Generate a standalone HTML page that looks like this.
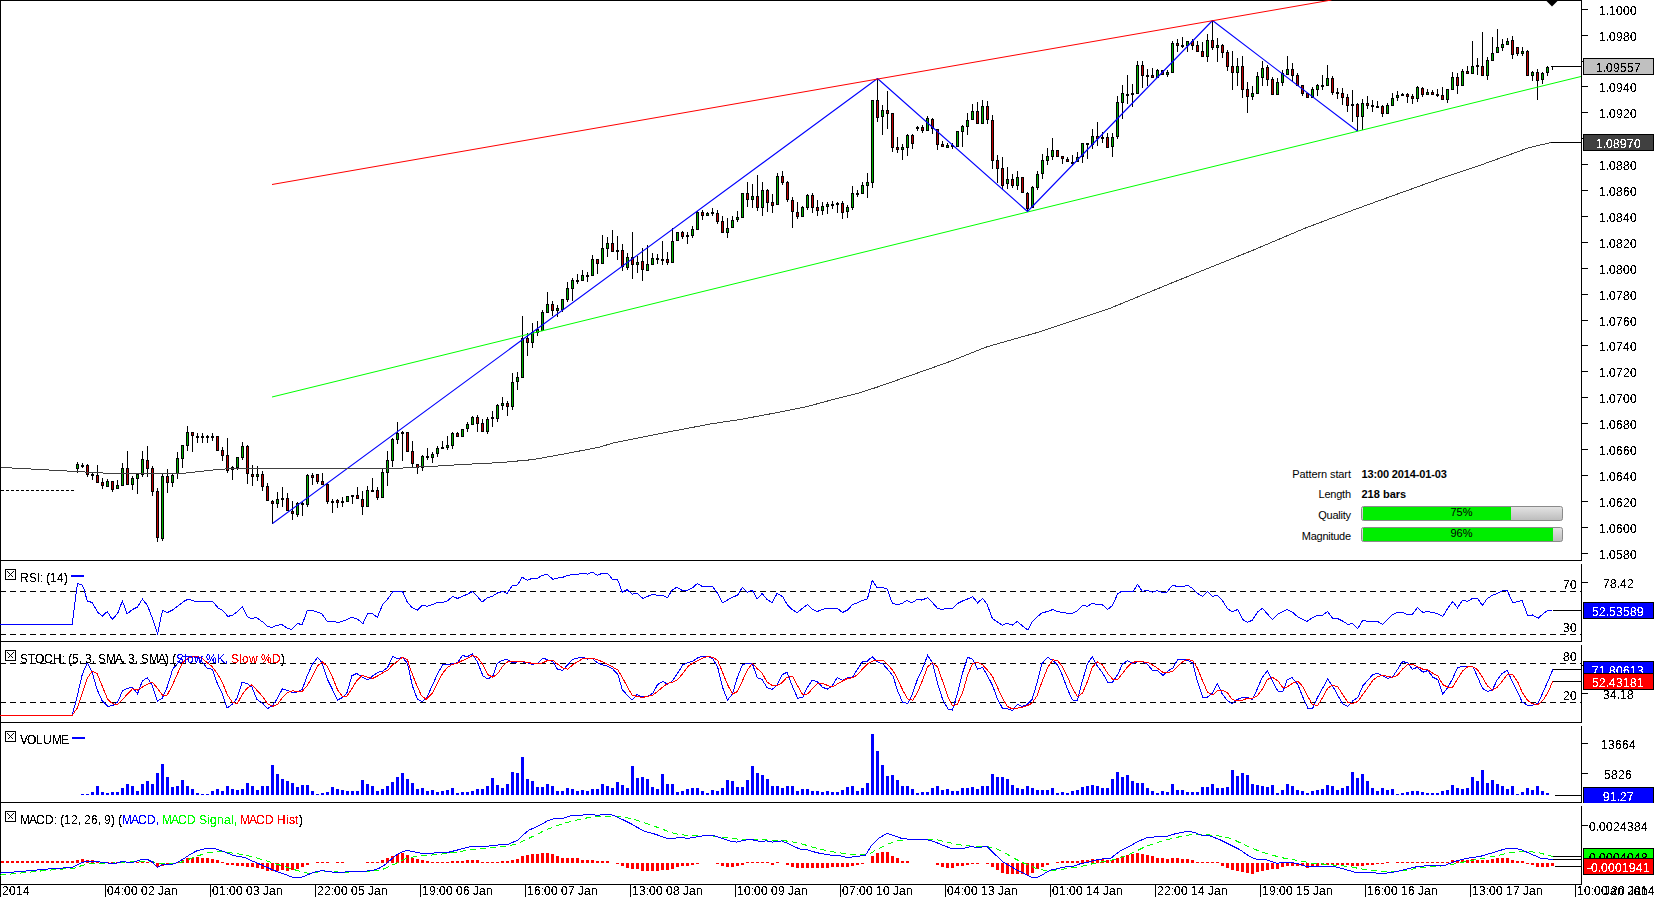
<!DOCTYPE html>
<html><head><meta charset="utf-8"><title>Chart</title>
<style>
html,body{margin:0;padding:0;background:#fff;}
body{width:1655px;height:897px;overflow:hidden;font-family:"Liberation Sans",sans-serif;}
svg{display:block;}
</style></head><body>
<svg width="1655" height="897" viewBox="0 0 1655 897">
<rect x="0" y="0" width="1655" height="897" fill="#fff"/>
<g shape-rendering="crispEdges">
<rect x="0" y="0" width="1582" height="1" fill="#000"/>
<rect x="0" y="0" width="1" height="897" fill="#000"/>
<rect x="1581" y="0" width="1" height="561" fill="#000"/>
<rect x="0" y="560" width="1582" height="1" fill="#000"/>
<rect x="0" y="641" width="1582" height="1" fill="#000"/>
<rect x="0" y="722" width="1582" height="1" fill="#000"/>
<rect x="0" y="802" width="1582" height="1" fill="#000"/>
<rect x="0" y="884" width="1582" height="1" fill="#000"/>
<rect x="1581" y="564" width="1" height="77" fill="#000"/>
<rect x="1581" y="645" width="1" height="77" fill="#000"/>
<rect x="1581" y="726" width="1" height="76" fill="#000"/>
<rect x="1581" y="806" width="1" height="78" fill="#000"/>
<rect x="105" y="884" width="1" height="13" fill="#000"/>
<rect x="210" y="884" width="1" height="13" fill="#000"/>
<rect x="315" y="884" width="1" height="13" fill="#000"/>
<rect x="420" y="884" width="1" height="13" fill="#000"/>
<rect x="525" y="884" width="1" height="13" fill="#000"/>
<rect x="630" y="884" width="1" height="13" fill="#000"/>
<rect x="735" y="884" width="1" height="13" fill="#000"/>
<rect x="840" y="884" width="1" height="13" fill="#000"/>
<rect x="945" y="884" width="1" height="13" fill="#000"/>
<rect x="1050" y="884" width="1" height="13" fill="#000"/>
<rect x="1155" y="884" width="1" height="13" fill="#000"/>
<rect x="1260" y="884" width="1" height="13" fill="#000"/>
<rect x="1365" y="884" width="1" height="13" fill="#000"/>
<rect x="1470" y="884" width="1" height="13" fill="#000"/>
<rect x="1575" y="884" width="1" height="13" fill="#000"/>
<rect x="1582" y="9" width="6" height="1" fill="#000"/>
<rect x="1582" y="35" width="6" height="1" fill="#000"/>
<rect x="1582" y="61" width="6" height="1" fill="#000"/>
<rect x="1582" y="86" width="6" height="1" fill="#000"/>
<rect x="1582" y="112" width="6" height="1" fill="#000"/>
<rect x="1582" y="138" width="6" height="1" fill="#000"/>
<rect x="1582" y="164" width="6" height="1" fill="#000"/>
<rect x="1582" y="190" width="6" height="1" fill="#000"/>
<rect x="1582" y="216" width="6" height="1" fill="#000"/>
<rect x="1582" y="242" width="6" height="1" fill="#000"/>
<rect x="1582" y="268" width="6" height="1" fill="#000"/>
<rect x="1582" y="294" width="6" height="1" fill="#000"/>
<rect x="1582" y="320" width="6" height="1" fill="#000"/>
<rect x="1582" y="345" width="6" height="1" fill="#000"/>
<rect x="1582" y="371" width="6" height="1" fill="#000"/>
<rect x="1582" y="397" width="6" height="1" fill="#000"/>
<rect x="1582" y="423" width="6" height="1" fill="#000"/>
<rect x="1582" y="449" width="6" height="1" fill="#000"/>
<rect x="1582" y="475" width="6" height="1" fill="#000"/>
<rect x="1582" y="501" width="6" height="1" fill="#000"/>
<rect x="1582" y="527" width="6" height="1" fill="#000"/>
<rect x="1582" y="553" width="6" height="1" fill="#000"/>
<rect x="1582" y="582" width="6" height="1" fill="#000"/>
<rect x="1582" y="693" width="6" height="1" fill="#000"/>
<rect x="1582" y="665" width="6" height="1" fill="#000"/>
<rect x="1582" y="743" width="6" height="1" fill="#000"/>
<rect x="1582" y="773" width="6" height="1" fill="#000"/>
<rect x="1582" y="825" width="6" height="1" fill="#000"/>
</g>
<g shape-rendering="crispEdges" fill="#000">
<rect x="1" y="591" width="5" height="1"/>
<rect x="10" y="591" width="6" height="1"/>
<rect x="20" y="591" width="6" height="1"/>
<rect x="30" y="591" width="6" height="1"/>
<rect x="40" y="591" width="6" height="1"/>
<rect x="50" y="591" width="6" height="1"/>
<rect x="60" y="591" width="6" height="1"/>
<rect x="70" y="591" width="6" height="1"/>
<rect x="80" y="591" width="6" height="1"/>
<rect x="90" y="591" width="6" height="1"/>
<rect x="100" y="591" width="6" height="1"/>
<rect x="110" y="591" width="6" height="1"/>
<rect x="120" y="591" width="6" height="1"/>
<rect x="130" y="591" width="6" height="1"/>
<rect x="140" y="591" width="6" height="1"/>
<rect x="150" y="591" width="6" height="1"/>
<rect x="160" y="591" width="6" height="1"/>
<rect x="170" y="591" width="6" height="1"/>
<rect x="180" y="591" width="6" height="1"/>
<rect x="190" y="591" width="6" height="1"/>
<rect x="200" y="591" width="6" height="1"/>
<rect x="210" y="591" width="6" height="1"/>
<rect x="220" y="591" width="6" height="1"/>
<rect x="230" y="591" width="6" height="1"/>
<rect x="240" y="591" width="6" height="1"/>
<rect x="250" y="591" width="6" height="1"/>
<rect x="260" y="591" width="6" height="1"/>
<rect x="270" y="591" width="6" height="1"/>
<rect x="280" y="591" width="6" height="1"/>
<rect x="290" y="591" width="6" height="1"/>
<rect x="300" y="591" width="6" height="1"/>
<rect x="310" y="591" width="6" height="1"/>
<rect x="320" y="591" width="6" height="1"/>
<rect x="330" y="591" width="6" height="1"/>
<rect x="340" y="591" width="6" height="1"/>
<rect x="350" y="591" width="6" height="1"/>
<rect x="360" y="591" width="6" height="1"/>
<rect x="370" y="591" width="6" height="1"/>
<rect x="380" y="591" width="6" height="1"/>
<rect x="390" y="591" width="6" height="1"/>
<rect x="400" y="591" width="6" height="1"/>
<rect x="410" y="591" width="6" height="1"/>
<rect x="420" y="591" width="6" height="1"/>
<rect x="430" y="591" width="6" height="1"/>
<rect x="440" y="591" width="6" height="1"/>
<rect x="450" y="591" width="6" height="1"/>
<rect x="460" y="591" width="6" height="1"/>
<rect x="470" y="591" width="6" height="1"/>
<rect x="480" y="591" width="6" height="1"/>
<rect x="490" y="591" width="6" height="1"/>
<rect x="500" y="591" width="6" height="1"/>
<rect x="510" y="591" width="6" height="1"/>
<rect x="520" y="591" width="6" height="1"/>
<rect x="530" y="591" width="6" height="1"/>
<rect x="540" y="591" width="6" height="1"/>
<rect x="550" y="591" width="6" height="1"/>
<rect x="560" y="591" width="6" height="1"/>
<rect x="570" y="591" width="6" height="1"/>
<rect x="580" y="591" width="6" height="1"/>
<rect x="590" y="591" width="6" height="1"/>
<rect x="600" y="591" width="6" height="1"/>
<rect x="610" y="591" width="6" height="1"/>
<rect x="620" y="591" width="6" height="1"/>
<rect x="630" y="591" width="6" height="1"/>
<rect x="640" y="591" width="6" height="1"/>
<rect x="650" y="591" width="6" height="1"/>
<rect x="660" y="591" width="6" height="1"/>
<rect x="670" y="591" width="6" height="1"/>
<rect x="680" y="591" width="6" height="1"/>
<rect x="690" y="591" width="6" height="1"/>
<rect x="700" y="591" width="6" height="1"/>
<rect x="710" y="591" width="6" height="1"/>
<rect x="720" y="591" width="6" height="1"/>
<rect x="730" y="591" width="6" height="1"/>
<rect x="740" y="591" width="6" height="1"/>
<rect x="750" y="591" width="6" height="1"/>
<rect x="760" y="591" width="6" height="1"/>
<rect x="770" y="591" width="6" height="1"/>
<rect x="780" y="591" width="6" height="1"/>
<rect x="790" y="591" width="6" height="1"/>
<rect x="800" y="591" width="6" height="1"/>
<rect x="810" y="591" width="6" height="1"/>
<rect x="820" y="591" width="6" height="1"/>
<rect x="830" y="591" width="6" height="1"/>
<rect x="840" y="591" width="6" height="1"/>
<rect x="850" y="591" width="6" height="1"/>
<rect x="860" y="591" width="6" height="1"/>
<rect x="870" y="591" width="6" height="1"/>
<rect x="880" y="591" width="6" height="1"/>
<rect x="890" y="591" width="6" height="1"/>
<rect x="900" y="591" width="6" height="1"/>
<rect x="910" y="591" width="6" height="1"/>
<rect x="920" y="591" width="6" height="1"/>
<rect x="930" y="591" width="6" height="1"/>
<rect x="940" y="591" width="6" height="1"/>
<rect x="950" y="591" width="6" height="1"/>
<rect x="960" y="591" width="6" height="1"/>
<rect x="970" y="591" width="6" height="1"/>
<rect x="980" y="591" width="6" height="1"/>
<rect x="990" y="591" width="6" height="1"/>
<rect x="1000" y="591" width="6" height="1"/>
<rect x="1010" y="591" width="6" height="1"/>
<rect x="1020" y="591" width="6" height="1"/>
<rect x="1030" y="591" width="6" height="1"/>
<rect x="1040" y="591" width="6" height="1"/>
<rect x="1050" y="591" width="6" height="1"/>
<rect x="1060" y="591" width="6" height="1"/>
<rect x="1070" y="591" width="6" height="1"/>
<rect x="1080" y="591" width="6" height="1"/>
<rect x="1090" y="591" width="6" height="1"/>
<rect x="1100" y="591" width="6" height="1"/>
<rect x="1110" y="591" width="6" height="1"/>
<rect x="1120" y="591" width="6" height="1"/>
<rect x="1130" y="591" width="6" height="1"/>
<rect x="1140" y="591" width="6" height="1"/>
<rect x="1150" y="591" width="6" height="1"/>
<rect x="1160" y="591" width="6" height="1"/>
<rect x="1170" y="591" width="6" height="1"/>
<rect x="1180" y="591" width="6" height="1"/>
<rect x="1190" y="591" width="6" height="1"/>
<rect x="1200" y="591" width="6" height="1"/>
<rect x="1210" y="591" width="6" height="1"/>
<rect x="1220" y="591" width="6" height="1"/>
<rect x="1230" y="591" width="6" height="1"/>
<rect x="1240" y="591" width="6" height="1"/>
<rect x="1250" y="591" width="6" height="1"/>
<rect x="1260" y="591" width="6" height="1"/>
<rect x="1270" y="591" width="6" height="1"/>
<rect x="1280" y="591" width="6" height="1"/>
<rect x="1290" y="591" width="6" height="1"/>
<rect x="1300" y="591" width="6" height="1"/>
<rect x="1310" y="591" width="6" height="1"/>
<rect x="1320" y="591" width="6" height="1"/>
<rect x="1330" y="591" width="6" height="1"/>
<rect x="1340" y="591" width="6" height="1"/>
<rect x="1350" y="591" width="6" height="1"/>
<rect x="1360" y="591" width="6" height="1"/>
<rect x="1370" y="591" width="6" height="1"/>
<rect x="1380" y="591" width="6" height="1"/>
<rect x="1390" y="591" width="6" height="1"/>
<rect x="1400" y="591" width="6" height="1"/>
<rect x="1410" y="591" width="6" height="1"/>
<rect x="1420" y="591" width="6" height="1"/>
<rect x="1430" y="591" width="6" height="1"/>
<rect x="1440" y="591" width="6" height="1"/>
<rect x="1450" y="591" width="6" height="1"/>
<rect x="1460" y="591" width="6" height="1"/>
<rect x="1470" y="591" width="6" height="1"/>
<rect x="1480" y="591" width="6" height="1"/>
<rect x="1490" y="591" width="6" height="1"/>
<rect x="1500" y="591" width="6" height="1"/>
<rect x="1510" y="591" width="6" height="1"/>
<rect x="1520" y="591" width="6" height="1"/>
<rect x="1530" y="591" width="6" height="1"/>
<rect x="1540" y="591" width="6" height="1"/>
<rect x="1550" y="591" width="6" height="1"/>
<rect x="1560" y="591" width="6" height="1"/>
<rect x="1570" y="591" width="6" height="1"/>
<rect x="1580" y="591" width="1" height="1"/>
</g>
<g shape-rendering="crispEdges" fill="#000">
<rect x="1" y="634" width="5" height="1"/>
<rect x="10" y="634" width="6" height="1"/>
<rect x="20" y="634" width="6" height="1"/>
<rect x="30" y="634" width="6" height="1"/>
<rect x="40" y="634" width="6" height="1"/>
<rect x="50" y="634" width="6" height="1"/>
<rect x="60" y="634" width="6" height="1"/>
<rect x="70" y="634" width="6" height="1"/>
<rect x="80" y="634" width="6" height="1"/>
<rect x="90" y="634" width="6" height="1"/>
<rect x="100" y="634" width="6" height="1"/>
<rect x="110" y="634" width="6" height="1"/>
<rect x="120" y="634" width="6" height="1"/>
<rect x="130" y="634" width="6" height="1"/>
<rect x="140" y="634" width="6" height="1"/>
<rect x="150" y="634" width="6" height="1"/>
<rect x="160" y="634" width="6" height="1"/>
<rect x="170" y="634" width="6" height="1"/>
<rect x="180" y="634" width="6" height="1"/>
<rect x="190" y="634" width="6" height="1"/>
<rect x="200" y="634" width="6" height="1"/>
<rect x="210" y="634" width="6" height="1"/>
<rect x="220" y="634" width="6" height="1"/>
<rect x="230" y="634" width="6" height="1"/>
<rect x="240" y="634" width="6" height="1"/>
<rect x="250" y="634" width="6" height="1"/>
<rect x="260" y="634" width="6" height="1"/>
<rect x="270" y="634" width="6" height="1"/>
<rect x="280" y="634" width="6" height="1"/>
<rect x="290" y="634" width="6" height="1"/>
<rect x="300" y="634" width="6" height="1"/>
<rect x="310" y="634" width="6" height="1"/>
<rect x="320" y="634" width="6" height="1"/>
<rect x="330" y="634" width="6" height="1"/>
<rect x="340" y="634" width="6" height="1"/>
<rect x="350" y="634" width="6" height="1"/>
<rect x="360" y="634" width="6" height="1"/>
<rect x="370" y="634" width="6" height="1"/>
<rect x="380" y="634" width="6" height="1"/>
<rect x="390" y="634" width="6" height="1"/>
<rect x="400" y="634" width="6" height="1"/>
<rect x="410" y="634" width="6" height="1"/>
<rect x="420" y="634" width="6" height="1"/>
<rect x="430" y="634" width="6" height="1"/>
<rect x="440" y="634" width="6" height="1"/>
<rect x="450" y="634" width="6" height="1"/>
<rect x="460" y="634" width="6" height="1"/>
<rect x="470" y="634" width="6" height="1"/>
<rect x="480" y="634" width="6" height="1"/>
<rect x="490" y="634" width="6" height="1"/>
<rect x="500" y="634" width="6" height="1"/>
<rect x="510" y="634" width="6" height="1"/>
<rect x="520" y="634" width="6" height="1"/>
<rect x="530" y="634" width="6" height="1"/>
<rect x="540" y="634" width="6" height="1"/>
<rect x="550" y="634" width="6" height="1"/>
<rect x="560" y="634" width="6" height="1"/>
<rect x="570" y="634" width="6" height="1"/>
<rect x="580" y="634" width="6" height="1"/>
<rect x="590" y="634" width="6" height="1"/>
<rect x="600" y="634" width="6" height="1"/>
<rect x="610" y="634" width="6" height="1"/>
<rect x="620" y="634" width="6" height="1"/>
<rect x="630" y="634" width="6" height="1"/>
<rect x="640" y="634" width="6" height="1"/>
<rect x="650" y="634" width="6" height="1"/>
<rect x="660" y="634" width="6" height="1"/>
<rect x="670" y="634" width="6" height="1"/>
<rect x="680" y="634" width="6" height="1"/>
<rect x="690" y="634" width="6" height="1"/>
<rect x="700" y="634" width="6" height="1"/>
<rect x="710" y="634" width="6" height="1"/>
<rect x="720" y="634" width="6" height="1"/>
<rect x="730" y="634" width="6" height="1"/>
<rect x="740" y="634" width="6" height="1"/>
<rect x="750" y="634" width="6" height="1"/>
<rect x="760" y="634" width="6" height="1"/>
<rect x="770" y="634" width="6" height="1"/>
<rect x="780" y="634" width="6" height="1"/>
<rect x="790" y="634" width="6" height="1"/>
<rect x="800" y="634" width="6" height="1"/>
<rect x="810" y="634" width="6" height="1"/>
<rect x="820" y="634" width="6" height="1"/>
<rect x="830" y="634" width="6" height="1"/>
<rect x="840" y="634" width="6" height="1"/>
<rect x="850" y="634" width="6" height="1"/>
<rect x="860" y="634" width="6" height="1"/>
<rect x="870" y="634" width="6" height="1"/>
<rect x="880" y="634" width="6" height="1"/>
<rect x="890" y="634" width="6" height="1"/>
<rect x="900" y="634" width="6" height="1"/>
<rect x="910" y="634" width="6" height="1"/>
<rect x="920" y="634" width="6" height="1"/>
<rect x="930" y="634" width="6" height="1"/>
<rect x="940" y="634" width="6" height="1"/>
<rect x="950" y="634" width="6" height="1"/>
<rect x="960" y="634" width="6" height="1"/>
<rect x="970" y="634" width="6" height="1"/>
<rect x="980" y="634" width="6" height="1"/>
<rect x="990" y="634" width="6" height="1"/>
<rect x="1000" y="634" width="6" height="1"/>
<rect x="1010" y="634" width="6" height="1"/>
<rect x="1020" y="634" width="6" height="1"/>
<rect x="1030" y="634" width="6" height="1"/>
<rect x="1040" y="634" width="6" height="1"/>
<rect x="1050" y="634" width="6" height="1"/>
<rect x="1060" y="634" width="6" height="1"/>
<rect x="1070" y="634" width="6" height="1"/>
<rect x="1080" y="634" width="6" height="1"/>
<rect x="1090" y="634" width="6" height="1"/>
<rect x="1100" y="634" width="6" height="1"/>
<rect x="1110" y="634" width="6" height="1"/>
<rect x="1120" y="634" width="6" height="1"/>
<rect x="1130" y="634" width="6" height="1"/>
<rect x="1140" y="634" width="6" height="1"/>
<rect x="1150" y="634" width="6" height="1"/>
<rect x="1160" y="634" width="6" height="1"/>
<rect x="1170" y="634" width="6" height="1"/>
<rect x="1180" y="634" width="6" height="1"/>
<rect x="1190" y="634" width="6" height="1"/>
<rect x="1200" y="634" width="6" height="1"/>
<rect x="1210" y="634" width="6" height="1"/>
<rect x="1220" y="634" width="6" height="1"/>
<rect x="1230" y="634" width="6" height="1"/>
<rect x="1240" y="634" width="6" height="1"/>
<rect x="1250" y="634" width="6" height="1"/>
<rect x="1260" y="634" width="6" height="1"/>
<rect x="1270" y="634" width="6" height="1"/>
<rect x="1280" y="634" width="6" height="1"/>
<rect x="1290" y="634" width="6" height="1"/>
<rect x="1300" y="634" width="6" height="1"/>
<rect x="1310" y="634" width="6" height="1"/>
<rect x="1320" y="634" width="6" height="1"/>
<rect x="1330" y="634" width="6" height="1"/>
<rect x="1340" y="634" width="6" height="1"/>
<rect x="1350" y="634" width="6" height="1"/>
<rect x="1360" y="634" width="6" height="1"/>
<rect x="1370" y="634" width="6" height="1"/>
<rect x="1380" y="634" width="6" height="1"/>
<rect x="1390" y="634" width="6" height="1"/>
<rect x="1400" y="634" width="6" height="1"/>
<rect x="1410" y="634" width="6" height="1"/>
<rect x="1420" y="634" width="6" height="1"/>
<rect x="1430" y="634" width="6" height="1"/>
<rect x="1440" y="634" width="6" height="1"/>
<rect x="1450" y="634" width="6" height="1"/>
<rect x="1460" y="634" width="6" height="1"/>
<rect x="1470" y="634" width="6" height="1"/>
<rect x="1480" y="634" width="6" height="1"/>
<rect x="1490" y="634" width="6" height="1"/>
<rect x="1500" y="634" width="6" height="1"/>
<rect x="1510" y="634" width="6" height="1"/>
<rect x="1520" y="634" width="6" height="1"/>
<rect x="1530" y="634" width="6" height="1"/>
<rect x="1540" y="634" width="6" height="1"/>
<rect x="1550" y="634" width="6" height="1"/>
<rect x="1560" y="634" width="6" height="1"/>
<rect x="1570" y="634" width="6" height="1"/>
<rect x="1580" y="634" width="1" height="1"/>
</g>
<g shape-rendering="crispEdges" fill="#000">
<rect x="1" y="663" width="5" height="1"/>
<rect x="10" y="663" width="6" height="1"/>
<rect x="20" y="663" width="6" height="1"/>
<rect x="30" y="663" width="6" height="1"/>
<rect x="40" y="663" width="6" height="1"/>
<rect x="50" y="663" width="6" height="1"/>
<rect x="60" y="663" width="6" height="1"/>
<rect x="70" y="663" width="6" height="1"/>
<rect x="80" y="663" width="6" height="1"/>
<rect x="90" y="663" width="6" height="1"/>
<rect x="100" y="663" width="6" height="1"/>
<rect x="110" y="663" width="6" height="1"/>
<rect x="120" y="663" width="6" height="1"/>
<rect x="130" y="663" width="6" height="1"/>
<rect x="140" y="663" width="6" height="1"/>
<rect x="150" y="663" width="6" height="1"/>
<rect x="160" y="663" width="6" height="1"/>
<rect x="170" y="663" width="6" height="1"/>
<rect x="180" y="663" width="6" height="1"/>
<rect x="190" y="663" width="6" height="1"/>
<rect x="200" y="663" width="6" height="1"/>
<rect x="210" y="663" width="6" height="1"/>
<rect x="220" y="663" width="6" height="1"/>
<rect x="230" y="663" width="6" height="1"/>
<rect x="240" y="663" width="6" height="1"/>
<rect x="250" y="663" width="6" height="1"/>
<rect x="260" y="663" width="6" height="1"/>
<rect x="270" y="663" width="6" height="1"/>
<rect x="280" y="663" width="6" height="1"/>
<rect x="290" y="663" width="6" height="1"/>
<rect x="300" y="663" width="6" height="1"/>
<rect x="310" y="663" width="6" height="1"/>
<rect x="320" y="663" width="6" height="1"/>
<rect x="330" y="663" width="6" height="1"/>
<rect x="340" y="663" width="6" height="1"/>
<rect x="350" y="663" width="6" height="1"/>
<rect x="360" y="663" width="6" height="1"/>
<rect x="370" y="663" width="6" height="1"/>
<rect x="380" y="663" width="6" height="1"/>
<rect x="390" y="663" width="6" height="1"/>
<rect x="400" y="663" width="6" height="1"/>
<rect x="410" y="663" width="6" height="1"/>
<rect x="420" y="663" width="6" height="1"/>
<rect x="430" y="663" width="6" height="1"/>
<rect x="440" y="663" width="6" height="1"/>
<rect x="450" y="663" width="6" height="1"/>
<rect x="460" y="663" width="6" height="1"/>
<rect x="470" y="663" width="6" height="1"/>
<rect x="480" y="663" width="6" height="1"/>
<rect x="490" y="663" width="6" height="1"/>
<rect x="500" y="663" width="6" height="1"/>
<rect x="510" y="663" width="6" height="1"/>
<rect x="520" y="663" width="6" height="1"/>
<rect x="530" y="663" width="6" height="1"/>
<rect x="540" y="663" width="6" height="1"/>
<rect x="550" y="663" width="6" height="1"/>
<rect x="560" y="663" width="6" height="1"/>
<rect x="570" y="663" width="6" height="1"/>
<rect x="580" y="663" width="6" height="1"/>
<rect x="590" y="663" width="6" height="1"/>
<rect x="600" y="663" width="6" height="1"/>
<rect x="610" y="663" width="6" height="1"/>
<rect x="620" y="663" width="6" height="1"/>
<rect x="630" y="663" width="6" height="1"/>
<rect x="640" y="663" width="6" height="1"/>
<rect x="650" y="663" width="6" height="1"/>
<rect x="660" y="663" width="6" height="1"/>
<rect x="670" y="663" width="6" height="1"/>
<rect x="680" y="663" width="6" height="1"/>
<rect x="690" y="663" width="6" height="1"/>
<rect x="700" y="663" width="6" height="1"/>
<rect x="710" y="663" width="6" height="1"/>
<rect x="720" y="663" width="6" height="1"/>
<rect x="730" y="663" width="6" height="1"/>
<rect x="740" y="663" width="6" height="1"/>
<rect x="750" y="663" width="6" height="1"/>
<rect x="760" y="663" width="6" height="1"/>
<rect x="770" y="663" width="6" height="1"/>
<rect x="780" y="663" width="6" height="1"/>
<rect x="790" y="663" width="6" height="1"/>
<rect x="800" y="663" width="6" height="1"/>
<rect x="810" y="663" width="6" height="1"/>
<rect x="820" y="663" width="6" height="1"/>
<rect x="830" y="663" width="6" height="1"/>
<rect x="840" y="663" width="6" height="1"/>
<rect x="850" y="663" width="6" height="1"/>
<rect x="860" y="663" width="6" height="1"/>
<rect x="870" y="663" width="6" height="1"/>
<rect x="880" y="663" width="6" height="1"/>
<rect x="890" y="663" width="6" height="1"/>
<rect x="900" y="663" width="6" height="1"/>
<rect x="910" y="663" width="6" height="1"/>
<rect x="920" y="663" width="6" height="1"/>
<rect x="930" y="663" width="6" height="1"/>
<rect x="940" y="663" width="6" height="1"/>
<rect x="950" y="663" width="6" height="1"/>
<rect x="960" y="663" width="6" height="1"/>
<rect x="970" y="663" width="6" height="1"/>
<rect x="980" y="663" width="6" height="1"/>
<rect x="990" y="663" width="6" height="1"/>
<rect x="1000" y="663" width="6" height="1"/>
<rect x="1010" y="663" width="6" height="1"/>
<rect x="1020" y="663" width="6" height="1"/>
<rect x="1030" y="663" width="6" height="1"/>
<rect x="1040" y="663" width="6" height="1"/>
<rect x="1050" y="663" width="6" height="1"/>
<rect x="1060" y="663" width="6" height="1"/>
<rect x="1070" y="663" width="6" height="1"/>
<rect x="1080" y="663" width="6" height="1"/>
<rect x="1090" y="663" width="6" height="1"/>
<rect x="1100" y="663" width="6" height="1"/>
<rect x="1110" y="663" width="6" height="1"/>
<rect x="1120" y="663" width="6" height="1"/>
<rect x="1130" y="663" width="6" height="1"/>
<rect x="1140" y="663" width="6" height="1"/>
<rect x="1150" y="663" width="6" height="1"/>
<rect x="1160" y="663" width="6" height="1"/>
<rect x="1170" y="663" width="6" height="1"/>
<rect x="1180" y="663" width="6" height="1"/>
<rect x="1190" y="663" width="6" height="1"/>
<rect x="1200" y="663" width="6" height="1"/>
<rect x="1210" y="663" width="6" height="1"/>
<rect x="1220" y="663" width="6" height="1"/>
<rect x="1230" y="663" width="6" height="1"/>
<rect x="1240" y="663" width="6" height="1"/>
<rect x="1250" y="663" width="6" height="1"/>
<rect x="1260" y="663" width="6" height="1"/>
<rect x="1270" y="663" width="6" height="1"/>
<rect x="1280" y="663" width="6" height="1"/>
<rect x="1290" y="663" width="6" height="1"/>
<rect x="1300" y="663" width="6" height="1"/>
<rect x="1310" y="663" width="6" height="1"/>
<rect x="1320" y="663" width="6" height="1"/>
<rect x="1330" y="663" width="6" height="1"/>
<rect x="1340" y="663" width="6" height="1"/>
<rect x="1350" y="663" width="6" height="1"/>
<rect x="1360" y="663" width="6" height="1"/>
<rect x="1370" y="663" width="6" height="1"/>
<rect x="1380" y="663" width="6" height="1"/>
<rect x="1390" y="663" width="6" height="1"/>
<rect x="1400" y="663" width="6" height="1"/>
<rect x="1410" y="663" width="6" height="1"/>
<rect x="1420" y="663" width="6" height="1"/>
<rect x="1430" y="663" width="6" height="1"/>
<rect x="1440" y="663" width="6" height="1"/>
<rect x="1450" y="663" width="6" height="1"/>
<rect x="1460" y="663" width="6" height="1"/>
<rect x="1470" y="663" width="6" height="1"/>
<rect x="1480" y="663" width="6" height="1"/>
<rect x="1490" y="663" width="6" height="1"/>
<rect x="1500" y="663" width="6" height="1"/>
<rect x="1510" y="663" width="6" height="1"/>
<rect x="1520" y="663" width="6" height="1"/>
<rect x="1530" y="663" width="6" height="1"/>
<rect x="1540" y="663" width="6" height="1"/>
<rect x="1550" y="663" width="6" height="1"/>
<rect x="1560" y="663" width="6" height="1"/>
<rect x="1570" y="663" width="6" height="1"/>
<rect x="1580" y="663" width="1" height="1"/>
</g>
<g shape-rendering="crispEdges" fill="#000">
<rect x="1" y="702" width="5" height="1"/>
<rect x="10" y="702" width="6" height="1"/>
<rect x="20" y="702" width="6" height="1"/>
<rect x="30" y="702" width="6" height="1"/>
<rect x="40" y="702" width="6" height="1"/>
<rect x="50" y="702" width="6" height="1"/>
<rect x="60" y="702" width="6" height="1"/>
<rect x="70" y="702" width="6" height="1"/>
<rect x="80" y="702" width="6" height="1"/>
<rect x="90" y="702" width="6" height="1"/>
<rect x="100" y="702" width="6" height="1"/>
<rect x="110" y="702" width="6" height="1"/>
<rect x="120" y="702" width="6" height="1"/>
<rect x="130" y="702" width="6" height="1"/>
<rect x="140" y="702" width="6" height="1"/>
<rect x="150" y="702" width="6" height="1"/>
<rect x="160" y="702" width="6" height="1"/>
<rect x="170" y="702" width="6" height="1"/>
<rect x="180" y="702" width="6" height="1"/>
<rect x="190" y="702" width="6" height="1"/>
<rect x="200" y="702" width="6" height="1"/>
<rect x="210" y="702" width="6" height="1"/>
<rect x="220" y="702" width="6" height="1"/>
<rect x="230" y="702" width="6" height="1"/>
<rect x="240" y="702" width="6" height="1"/>
<rect x="250" y="702" width="6" height="1"/>
<rect x="260" y="702" width="6" height="1"/>
<rect x="270" y="702" width="6" height="1"/>
<rect x="280" y="702" width="6" height="1"/>
<rect x="290" y="702" width="6" height="1"/>
<rect x="300" y="702" width="6" height="1"/>
<rect x="310" y="702" width="6" height="1"/>
<rect x="320" y="702" width="6" height="1"/>
<rect x="330" y="702" width="6" height="1"/>
<rect x="340" y="702" width="6" height="1"/>
<rect x="350" y="702" width="6" height="1"/>
<rect x="360" y="702" width="6" height="1"/>
<rect x="370" y="702" width="6" height="1"/>
<rect x="380" y="702" width="6" height="1"/>
<rect x="390" y="702" width="6" height="1"/>
<rect x="400" y="702" width="6" height="1"/>
<rect x="410" y="702" width="6" height="1"/>
<rect x="420" y="702" width="6" height="1"/>
<rect x="430" y="702" width="6" height="1"/>
<rect x="440" y="702" width="6" height="1"/>
<rect x="450" y="702" width="6" height="1"/>
<rect x="460" y="702" width="6" height="1"/>
<rect x="470" y="702" width="6" height="1"/>
<rect x="480" y="702" width="6" height="1"/>
<rect x="490" y="702" width="6" height="1"/>
<rect x="500" y="702" width="6" height="1"/>
<rect x="510" y="702" width="6" height="1"/>
<rect x="520" y="702" width="6" height="1"/>
<rect x="530" y="702" width="6" height="1"/>
<rect x="540" y="702" width="6" height="1"/>
<rect x="550" y="702" width="6" height="1"/>
<rect x="560" y="702" width="6" height="1"/>
<rect x="570" y="702" width="6" height="1"/>
<rect x="580" y="702" width="6" height="1"/>
<rect x="590" y="702" width="6" height="1"/>
<rect x="600" y="702" width="6" height="1"/>
<rect x="610" y="702" width="6" height="1"/>
<rect x="620" y="702" width="6" height="1"/>
<rect x="630" y="702" width="6" height="1"/>
<rect x="640" y="702" width="6" height="1"/>
<rect x="650" y="702" width="6" height="1"/>
<rect x="660" y="702" width="6" height="1"/>
<rect x="670" y="702" width="6" height="1"/>
<rect x="680" y="702" width="6" height="1"/>
<rect x="690" y="702" width="6" height="1"/>
<rect x="700" y="702" width="6" height="1"/>
<rect x="710" y="702" width="6" height="1"/>
<rect x="720" y="702" width="6" height="1"/>
<rect x="730" y="702" width="6" height="1"/>
<rect x="740" y="702" width="6" height="1"/>
<rect x="750" y="702" width="6" height="1"/>
<rect x="760" y="702" width="6" height="1"/>
<rect x="770" y="702" width="6" height="1"/>
<rect x="780" y="702" width="6" height="1"/>
<rect x="790" y="702" width="6" height="1"/>
<rect x="800" y="702" width="6" height="1"/>
<rect x="810" y="702" width="6" height="1"/>
<rect x="820" y="702" width="6" height="1"/>
<rect x="830" y="702" width="6" height="1"/>
<rect x="840" y="702" width="6" height="1"/>
<rect x="850" y="702" width="6" height="1"/>
<rect x="860" y="702" width="6" height="1"/>
<rect x="870" y="702" width="6" height="1"/>
<rect x="880" y="702" width="6" height="1"/>
<rect x="890" y="702" width="6" height="1"/>
<rect x="900" y="702" width="6" height="1"/>
<rect x="910" y="702" width="6" height="1"/>
<rect x="920" y="702" width="6" height="1"/>
<rect x="930" y="702" width="6" height="1"/>
<rect x="940" y="702" width="6" height="1"/>
<rect x="950" y="702" width="6" height="1"/>
<rect x="960" y="702" width="6" height="1"/>
<rect x="970" y="702" width="6" height="1"/>
<rect x="980" y="702" width="6" height="1"/>
<rect x="990" y="702" width="6" height="1"/>
<rect x="1000" y="702" width="6" height="1"/>
<rect x="1010" y="702" width="6" height="1"/>
<rect x="1020" y="702" width="6" height="1"/>
<rect x="1030" y="702" width="6" height="1"/>
<rect x="1040" y="702" width="6" height="1"/>
<rect x="1050" y="702" width="6" height="1"/>
<rect x="1060" y="702" width="6" height="1"/>
<rect x="1070" y="702" width="6" height="1"/>
<rect x="1080" y="702" width="6" height="1"/>
<rect x="1090" y="702" width="6" height="1"/>
<rect x="1100" y="702" width="6" height="1"/>
<rect x="1110" y="702" width="6" height="1"/>
<rect x="1120" y="702" width="6" height="1"/>
<rect x="1130" y="702" width="6" height="1"/>
<rect x="1140" y="702" width="6" height="1"/>
<rect x="1150" y="702" width="6" height="1"/>
<rect x="1160" y="702" width="6" height="1"/>
<rect x="1170" y="702" width="6" height="1"/>
<rect x="1180" y="702" width="6" height="1"/>
<rect x="1190" y="702" width="6" height="1"/>
<rect x="1200" y="702" width="6" height="1"/>
<rect x="1210" y="702" width="6" height="1"/>
<rect x="1220" y="702" width="6" height="1"/>
<rect x="1230" y="702" width="6" height="1"/>
<rect x="1240" y="702" width="6" height="1"/>
<rect x="1250" y="702" width="6" height="1"/>
<rect x="1260" y="702" width="6" height="1"/>
<rect x="1270" y="702" width="6" height="1"/>
<rect x="1280" y="702" width="6" height="1"/>
<rect x="1290" y="702" width="6" height="1"/>
<rect x="1300" y="702" width="6" height="1"/>
<rect x="1310" y="702" width="6" height="1"/>
<rect x="1320" y="702" width="6" height="1"/>
<rect x="1330" y="702" width="6" height="1"/>
<rect x="1340" y="702" width="6" height="1"/>
<rect x="1350" y="702" width="6" height="1"/>
<rect x="1360" y="702" width="6" height="1"/>
<rect x="1370" y="702" width="6" height="1"/>
<rect x="1380" y="702" width="6" height="1"/>
<rect x="1390" y="702" width="6" height="1"/>
<rect x="1400" y="702" width="6" height="1"/>
<rect x="1410" y="702" width="6" height="1"/>
<rect x="1420" y="702" width="6" height="1"/>
<rect x="1430" y="702" width="6" height="1"/>
<rect x="1440" y="702" width="6" height="1"/>
<rect x="1450" y="702" width="6" height="1"/>
<rect x="1460" y="702" width="6" height="1"/>
<rect x="1470" y="702" width="6" height="1"/>
<rect x="1480" y="702" width="6" height="1"/>
<rect x="1490" y="702" width="6" height="1"/>
<rect x="1500" y="702" width="6" height="1"/>
<rect x="1510" y="702" width="6" height="1"/>
<rect x="1520" y="702" width="6" height="1"/>
<rect x="1530" y="702" width="6" height="1"/>
<rect x="1540" y="702" width="6" height="1"/>
<rect x="1550" y="702" width="6" height="1"/>
<rect x="1560" y="702" width="6" height="1"/>
<rect x="1570" y="702" width="6" height="1"/>
<rect x="1580" y="702" width="1" height="1"/>
</g>
<g shape-rendering="crispEdges" fill="#000">
<rect x="1" y="490" width="3" height="1"/>
<rect x="6" y="490" width="3" height="1"/>
<rect x="11" y="490" width="3" height="1"/>
<rect x="16" y="490" width="3" height="1"/>
<rect x="21" y="490" width="3" height="1"/>
<rect x="26" y="490" width="3" height="1"/>
<rect x="31" y="490" width="3" height="1"/>
<rect x="36" y="490" width="3" height="1"/>
<rect x="41" y="490" width="3" height="1"/>
<rect x="46" y="490" width="3" height="1"/>
<rect x="51" y="490" width="3" height="1"/>
<rect x="56" y="490" width="3" height="1"/>
<rect x="61" y="490" width="3" height="1"/>
<rect x="66" y="490" width="3" height="1"/>
<rect x="71" y="490" width="3" height="1"/>
</g>
<g shape-rendering="crispEdges">
<rect x="77" y="462" width="1" height="11" fill="#000"/>
<rect x="76" y="464" width="3" height="5" fill="#000"/>
<rect x="77" y="465" width="1" height="3" fill="#00B400"/>
<rect x="82" y="463" width="1" height="5" fill="#000"/>
<rect x="81" y="465" width="3" height="2" fill="#000"/>
<rect x="87" y="464" width="1" height="13" fill="#000"/>
<rect x="86" y="465" width="3" height="10" fill="#000"/>
<rect x="87" y="466" width="1" height="8" fill="#BE0000"/>
<rect x="92" y="472" width="1" height="8" fill="#000"/>
<rect x="91" y="474" width="3" height="2" fill="#000"/>
<rect x="97" y="465" width="1" height="18" fill="#000"/>
<rect x="96" y="475" width="3" height="8" fill="#000"/>
<rect x="97" y="476" width="1" height="6" fill="#BE0000"/>
<rect x="102" y="478" width="1" height="11" fill="#000"/>
<rect x="101" y="482" width="3" height="4" fill="#000"/>
<rect x="102" y="483" width="1" height="2" fill="#BE0000"/>
<rect x="107" y="479" width="1" height="8" fill="#000"/>
<rect x="106" y="481" width="3" height="6" fill="#000"/>
<rect x="107" y="482" width="1" height="4" fill="#00B400"/>
<rect x="112" y="481" width="1" height="11" fill="#000"/>
<rect x="111" y="481" width="3" height="9" fill="#000"/>
<rect x="112" y="482" width="1" height="7" fill="#BE0000"/>
<rect x="117" y="480" width="1" height="9" fill="#000"/>
<rect x="116" y="485" width="3" height="4" fill="#000"/>
<rect x="117" y="486" width="1" height="2" fill="#00B400"/>
<rect x="122" y="463" width="1" height="23" fill="#000"/>
<rect x="121" y="468" width="3" height="18" fill="#000"/>
<rect x="122" y="469" width="1" height="16" fill="#00B400"/>
<rect x="127" y="451" width="1" height="34" fill="#000"/>
<rect x="126" y="468" width="3" height="17" fill="#000"/>
<rect x="127" y="469" width="1" height="15" fill="#BE0000"/>
<rect x="132" y="476" width="1" height="14" fill="#000"/>
<rect x="131" y="478" width="3" height="7" fill="#000"/>
<rect x="132" y="479" width="1" height="5" fill="#00B400"/>
<rect x="137" y="474" width="1" height="20" fill="#000"/>
<rect x="136" y="474" width="3" height="5" fill="#000"/>
<rect x="137" y="475" width="1" height="3" fill="#00B400"/>
<rect x="142" y="451" width="1" height="26" fill="#000"/>
<rect x="141" y="459" width="3" height="16" fill="#000"/>
<rect x="142" y="460" width="1" height="14" fill="#00B400"/>
<rect x="147" y="446" width="1" height="31" fill="#000"/>
<rect x="146" y="460" width="3" height="9" fill="#000"/>
<rect x="147" y="461" width="1" height="7" fill="#BE0000"/>
<rect x="152" y="466" width="1" height="30" fill="#000"/>
<rect x="151" y="468" width="3" height="24" fill="#000"/>
<rect x="152" y="469" width="1" height="22" fill="#BE0000"/>
<rect x="157" y="488" width="1" height="54" fill="#000"/>
<rect x="156" y="491" width="3" height="47" fill="#000"/>
<rect x="157" y="492" width="1" height="45" fill="#BE0000"/>
<rect x="162" y="474" width="1" height="67" fill="#000"/>
<rect x="161" y="476" width="3" height="63" fill="#000"/>
<rect x="162" y="477" width="1" height="61" fill="#00B400"/>
<rect x="167" y="469" width="1" height="24" fill="#000"/>
<rect x="166" y="476" width="3" height="7" fill="#000"/>
<rect x="167" y="477" width="1" height="5" fill="#BE0000"/>
<rect x="172" y="474" width="1" height="13" fill="#000"/>
<rect x="171" y="475" width="3" height="8" fill="#000"/>
<rect x="172" y="476" width="1" height="6" fill="#00B400"/>
<rect x="177" y="452" width="1" height="27" fill="#000"/>
<rect x="176" y="458" width="3" height="16" fill="#000"/>
<rect x="177" y="459" width="1" height="14" fill="#00B400"/>
<rect x="182" y="445" width="1" height="23" fill="#000"/>
<rect x="181" y="445" width="3" height="14" fill="#000"/>
<rect x="182" y="446" width="1" height="12" fill="#00B400"/>
<rect x="187" y="426" width="1" height="25" fill="#000"/>
<rect x="186" y="432" width="3" height="14" fill="#000"/>
<rect x="187" y="433" width="1" height="12" fill="#00B400"/>
<rect x="192" y="432" width="1" height="20" fill="#000"/>
<rect x="191" y="432" width="3" height="4" fill="#000"/>
<rect x="192" y="433" width="1" height="2" fill="#BE0000"/>
<rect x="197" y="433" width="1" height="10" fill="#000"/>
<rect x="196" y="436" width="3" height="2" fill="#000"/>
<rect x="202" y="433" width="1" height="10" fill="#000"/>
<rect x="201" y="436" width="3" height="2" fill="#000"/>
<rect x="207" y="435" width="1" height="8" fill="#000"/>
<rect x="206" y="436" width="3" height="2" fill="#000"/>
<rect x="212" y="433" width="1" height="8" fill="#000"/>
<rect x="211" y="436" width="3" height="2" fill="#000"/>
<rect x="217" y="436" width="1" height="15" fill="#000"/>
<rect x="216" y="436" width="3" height="15" fill="#000"/>
<rect x="217" y="437" width="1" height="13" fill="#BE0000"/>
<rect x="222" y="447" width="1" height="14" fill="#000"/>
<rect x="221" y="450" width="3" height="6" fill="#000"/>
<rect x="222" y="451" width="1" height="4" fill="#BE0000"/>
<rect x="227" y="438" width="1" height="35" fill="#000"/>
<rect x="226" y="455" width="3" height="16" fill="#000"/>
<rect x="227" y="456" width="1" height="14" fill="#BE0000"/>
<rect x="232" y="466" width="1" height="14" fill="#000"/>
<rect x="231" y="467" width="3" height="3" fill="#000"/>
<rect x="232" y="468" width="1" height="1" fill="#00B400"/>
<rect x="237" y="457" width="1" height="13" fill="#000"/>
<rect x="236" y="457" width="3" height="11" fill="#000"/>
<rect x="237" y="458" width="1" height="9" fill="#00B400"/>
<rect x="242" y="442" width="1" height="18" fill="#000"/>
<rect x="241" y="446" width="3" height="12" fill="#000"/>
<rect x="242" y="447" width="1" height="10" fill="#00B400"/>
<rect x="247" y="445" width="1" height="39" fill="#000"/>
<rect x="246" y="446" width="3" height="28" fill="#000"/>
<rect x="247" y="447" width="1" height="26" fill="#BE0000"/>
<rect x="252" y="465" width="1" height="21" fill="#000"/>
<rect x="251" y="474" width="3" height="3" fill="#000"/>
<rect x="252" y="475" width="1" height="1" fill="#BE0000"/>
<rect x="257" y="466" width="1" height="15" fill="#000"/>
<rect x="256" y="474" width="3" height="3" fill="#000"/>
<rect x="257" y="475" width="1" height="1" fill="#00B400"/>
<rect x="262" y="471" width="1" height="20" fill="#000"/>
<rect x="261" y="474" width="3" height="13" fill="#000"/>
<rect x="262" y="475" width="1" height="11" fill="#BE0000"/>
<rect x="267" y="483" width="1" height="18" fill="#000"/>
<rect x="266" y="486" width="3" height="15" fill="#000"/>
<rect x="267" y="487" width="1" height="13" fill="#BE0000"/>
<rect x="272" y="500" width="1" height="24" fill="#000"/>
<rect x="271" y="501" width="3" height="3" fill="#000"/>
<rect x="272" y="502" width="1" height="1" fill="#BE0000"/>
<rect x="277" y="492" width="1" height="16" fill="#000"/>
<rect x="276" y="499" width="3" height="5" fill="#000"/>
<rect x="277" y="500" width="1" height="3" fill="#00B400"/>
<rect x="282" y="487" width="1" height="20" fill="#000"/>
<rect x="281" y="498" width="3" height="2" fill="#000"/>
<rect x="287" y="493" width="1" height="18" fill="#000"/>
<rect x="286" y="498" width="3" height="13" fill="#000"/>
<rect x="287" y="499" width="1" height="11" fill="#BE0000"/>
<rect x="292" y="501" width="1" height="19" fill="#000"/>
<rect x="291" y="511" width="3" height="3" fill="#000"/>
<rect x="292" y="512" width="1" height="1" fill="#BE0000"/>
<rect x="297" y="502" width="1" height="15" fill="#000"/>
<rect x="296" y="503" width="3" height="12" fill="#000"/>
<rect x="297" y="504" width="1" height="10" fill="#00B400"/>
<rect x="302" y="502" width="1" height="14" fill="#000"/>
<rect x="301" y="503" width="3" height="2" fill="#000"/>
<rect x="307" y="474" width="1" height="33" fill="#000"/>
<rect x="306" y="475" width="3" height="30" fill="#000"/>
<rect x="307" y="476" width="1" height="28" fill="#00B400"/>
<rect x="312" y="473" width="1" height="12" fill="#000"/>
<rect x="311" y="475" width="3" height="3" fill="#000"/>
<rect x="312" y="476" width="1" height="1" fill="#BE0000"/>
<rect x="317" y="474" width="1" height="10" fill="#000"/>
<rect x="316" y="474" width="3" height="8" fill="#000"/>
<rect x="317" y="475" width="1" height="6" fill="#BE0000"/>
<rect x="322" y="473" width="1" height="12" fill="#000"/>
<rect x="321" y="481" width="3" height="4" fill="#000"/>
<rect x="322" y="482" width="1" height="2" fill="#BE0000"/>
<rect x="327" y="483" width="1" height="21" fill="#000"/>
<rect x="326" y="484" width="3" height="18" fill="#000"/>
<rect x="327" y="485" width="1" height="16" fill="#BE0000"/>
<rect x="332" y="499" width="1" height="14" fill="#000"/>
<rect x="331" y="501" width="3" height="2" fill="#000"/>
<rect x="337" y="499" width="1" height="9" fill="#000"/>
<rect x="336" y="500" width="3" height="3" fill="#000"/>
<rect x="337" y="501" width="1" height="1" fill="#BE0000"/>
<rect x="342" y="497" width="1" height="10" fill="#000"/>
<rect x="341" y="501" width="3" height="2" fill="#000"/>
<rect x="347" y="496" width="1" height="6" fill="#000"/>
<rect x="346" y="496" width="3" height="6" fill="#000"/>
<rect x="347" y="497" width="1" height="4" fill="#00B400"/>
<rect x="352" y="495" width="1" height="9" fill="#000"/>
<rect x="351" y="495" width="3" height="2" fill="#000"/>
<rect x="357" y="487" width="1" height="12" fill="#000"/>
<rect x="356" y="495" width="3" height="4" fill="#000"/>
<rect x="357" y="496" width="1" height="2" fill="#BE0000"/>
<rect x="362" y="491" width="1" height="24" fill="#000"/>
<rect x="361" y="499" width="3" height="8" fill="#000"/>
<rect x="362" y="500" width="1" height="6" fill="#BE0000"/>
<rect x="367" y="486" width="1" height="21" fill="#000"/>
<rect x="366" y="490" width="3" height="17" fill="#000"/>
<rect x="367" y="491" width="1" height="15" fill="#00B400"/>
<rect x="372" y="478" width="1" height="14" fill="#000"/>
<rect x="371" y="490" width="3" height="2" fill="#000"/>
<rect x="377" y="487" width="1" height="13" fill="#000"/>
<rect x="376" y="490" width="3" height="8" fill="#000"/>
<rect x="377" y="491" width="1" height="6" fill="#BE0000"/>
<rect x="382" y="468" width="1" height="30" fill="#000"/>
<rect x="381" y="472" width="3" height="26" fill="#000"/>
<rect x="382" y="473" width="1" height="24" fill="#00B400"/>
<rect x="387" y="451" width="1" height="35" fill="#000"/>
<rect x="386" y="460" width="3" height="13" fill="#000"/>
<rect x="387" y="461" width="1" height="11" fill="#00B400"/>
<rect x="392" y="438" width="1" height="29" fill="#000"/>
<rect x="391" y="439" width="3" height="22" fill="#000"/>
<rect x="392" y="440" width="1" height="20" fill="#00B400"/>
<rect x="397" y="422" width="1" height="22" fill="#000"/>
<rect x="396" y="433" width="3" height="7" fill="#000"/>
<rect x="397" y="434" width="1" height="5" fill="#00B400"/>
<rect x="402" y="431" width="1" height="30" fill="#000"/>
<rect x="401" y="432" width="3" height="2" fill="#000"/>
<rect x="407" y="432" width="1" height="20" fill="#000"/>
<rect x="406" y="432" width="3" height="20" fill="#000"/>
<rect x="407" y="433" width="1" height="18" fill="#BE0000"/>
<rect x="412" y="441" width="1" height="26" fill="#000"/>
<rect x="411" y="451" width="3" height="13" fill="#000"/>
<rect x="412" y="452" width="1" height="11" fill="#BE0000"/>
<rect x="417" y="464" width="1" height="10" fill="#000"/>
<rect x="416" y="464" width="3" height="4" fill="#000"/>
<rect x="417" y="465" width="1" height="2" fill="#BE0000"/>
<rect x="422" y="455" width="1" height="16" fill="#000"/>
<rect x="421" y="456" width="3" height="12" fill="#000"/>
<rect x="422" y="457" width="1" height="10" fill="#00B400"/>
<rect x="427" y="448" width="1" height="12" fill="#000"/>
<rect x="426" y="456" width="3" height="2" fill="#000"/>
<rect x="432" y="452" width="1" height="11" fill="#000"/>
<rect x="431" y="454" width="3" height="4" fill="#000"/>
<rect x="432" y="455" width="1" height="2" fill="#00B400"/>
<rect x="437" y="446" width="1" height="11" fill="#000"/>
<rect x="436" y="448" width="3" height="6" fill="#000"/>
<rect x="437" y="449" width="1" height="4" fill="#00B400"/>
<rect x="442" y="441" width="1" height="8" fill="#000"/>
<rect x="441" y="447" width="3" height="2" fill="#000"/>
<rect x="447" y="436" width="1" height="14" fill="#000"/>
<rect x="446" y="445" width="3" height="3" fill="#000"/>
<rect x="447" y="446" width="1" height="1" fill="#00B400"/>
<rect x="452" y="432" width="1" height="17" fill="#000"/>
<rect x="451" y="433" width="3" height="13" fill="#000"/>
<rect x="452" y="434" width="1" height="11" fill="#00B400"/>
<rect x="457" y="432" width="1" height="5" fill="#000"/>
<rect x="456" y="433" width="3" height="4" fill="#000"/>
<rect x="457" y="434" width="1" height="2" fill="#BE0000"/>
<rect x="462" y="429" width="1" height="8" fill="#000"/>
<rect x="461" y="429" width="3" height="8" fill="#000"/>
<rect x="462" y="430" width="1" height="6" fill="#00B400"/>
<rect x="467" y="422" width="1" height="10" fill="#000"/>
<rect x="466" y="424" width="3" height="5" fill="#000"/>
<rect x="467" y="425" width="1" height="3" fill="#00B400"/>
<rect x="472" y="416" width="1" height="9" fill="#000"/>
<rect x="471" y="417" width="3" height="8" fill="#000"/>
<rect x="472" y="418" width="1" height="6" fill="#00B400"/>
<rect x="477" y="415" width="1" height="17" fill="#000"/>
<rect x="476" y="417" width="3" height="7" fill="#000"/>
<rect x="477" y="418" width="1" height="5" fill="#BE0000"/>
<rect x="482" y="419" width="1" height="13" fill="#000"/>
<rect x="481" y="423" width="3" height="9" fill="#000"/>
<rect x="482" y="424" width="1" height="7" fill="#BE0000"/>
<rect x="487" y="417" width="1" height="17" fill="#000"/>
<rect x="486" y="419" width="3" height="13" fill="#000"/>
<rect x="487" y="420" width="1" height="11" fill="#00B400"/>
<rect x="492" y="411" width="1" height="16" fill="#000"/>
<rect x="491" y="417" width="3" height="2" fill="#000"/>
<rect x="497" y="404" width="1" height="18" fill="#000"/>
<rect x="496" y="405" width="3" height="14" fill="#000"/>
<rect x="497" y="406" width="1" height="12" fill="#00B400"/>
<rect x="502" y="397" width="1" height="13" fill="#000"/>
<rect x="501" y="403" width="3" height="3" fill="#000"/>
<rect x="502" y="404" width="1" height="1" fill="#00B400"/>
<rect x="507" y="401" width="1" height="15" fill="#000"/>
<rect x="506" y="403" width="3" height="4" fill="#000"/>
<rect x="507" y="404" width="1" height="2" fill="#BE0000"/>
<rect x="512" y="373" width="1" height="37" fill="#000"/>
<rect x="511" y="382" width="3" height="25" fill="#000"/>
<rect x="512" y="383" width="1" height="23" fill="#00B400"/>
<rect x="517" y="372" width="1" height="18" fill="#000"/>
<rect x="516" y="377" width="3" height="5" fill="#000"/>
<rect x="517" y="378" width="1" height="3" fill="#00B400"/>
<rect x="522" y="316" width="1" height="62" fill="#000"/>
<rect x="521" y="338" width="3" height="40" fill="#000"/>
<rect x="522" y="339" width="1" height="38" fill="#00B400"/>
<rect x="527" y="333" width="1" height="23" fill="#000"/>
<rect x="526" y="338" width="3" height="5" fill="#000"/>
<rect x="527" y="339" width="1" height="3" fill="#BE0000"/>
<rect x="532" y="323" width="1" height="25" fill="#000"/>
<rect x="531" y="332" width="3" height="11" fill="#000"/>
<rect x="532" y="333" width="1" height="9" fill="#00B400"/>
<rect x="537" y="321" width="1" height="15" fill="#000"/>
<rect x="536" y="329" width="3" height="4" fill="#000"/>
<rect x="537" y="330" width="1" height="2" fill="#00B400"/>
<rect x="542" y="310" width="1" height="21" fill="#000"/>
<rect x="541" y="312" width="3" height="19" fill="#000"/>
<rect x="542" y="313" width="1" height="17" fill="#00B400"/>
<rect x="547" y="292" width="1" height="21" fill="#000"/>
<rect x="546" y="304" width="3" height="9" fill="#000"/>
<rect x="547" y="305" width="1" height="7" fill="#00B400"/>
<rect x="552" y="301" width="1" height="15" fill="#000"/>
<rect x="551" y="304" width="3" height="7" fill="#000"/>
<rect x="552" y="305" width="1" height="5" fill="#BE0000"/>
<rect x="557" y="305" width="1" height="12" fill="#000"/>
<rect x="556" y="308" width="3" height="3" fill="#000"/>
<rect x="557" y="309" width="1" height="1" fill="#00B400"/>
<rect x="562" y="299" width="1" height="13" fill="#000"/>
<rect x="561" y="299" width="3" height="11" fill="#000"/>
<rect x="562" y="300" width="1" height="9" fill="#00B400"/>
<rect x="567" y="282" width="1" height="20" fill="#000"/>
<rect x="566" y="288" width="3" height="12" fill="#000"/>
<rect x="567" y="289" width="1" height="10" fill="#00B400"/>
<rect x="572" y="278" width="1" height="23" fill="#000"/>
<rect x="571" y="280" width="3" height="9" fill="#000"/>
<rect x="572" y="281" width="1" height="7" fill="#00B400"/>
<rect x="577" y="274" width="1" height="10" fill="#000"/>
<rect x="576" y="280" width="3" height="2" fill="#000"/>
<rect x="582" y="270" width="1" height="11" fill="#000"/>
<rect x="581" y="275" width="3" height="6" fill="#000"/>
<rect x="582" y="276" width="1" height="4" fill="#00B400"/>
<rect x="587" y="272" width="1" height="10" fill="#000"/>
<rect x="586" y="275" width="3" height="2" fill="#000"/>
<rect x="592" y="255" width="1" height="21" fill="#000"/>
<rect x="591" y="259" width="3" height="17" fill="#000"/>
<rect x="592" y="260" width="1" height="15" fill="#00B400"/>
<rect x="597" y="259" width="1" height="15" fill="#000"/>
<rect x="596" y="259" width="3" height="5" fill="#000"/>
<rect x="597" y="260" width="1" height="3" fill="#BE0000"/>
<rect x="602" y="235" width="1" height="29" fill="#000"/>
<rect x="601" y="248" width="3" height="16" fill="#000"/>
<rect x="602" y="249" width="1" height="14" fill="#00B400"/>
<rect x="607" y="237" width="1" height="20" fill="#000"/>
<rect x="606" y="243" width="3" height="6" fill="#000"/>
<rect x="607" y="244" width="1" height="4" fill="#00B400"/>
<rect x="612" y="230" width="1" height="22" fill="#000"/>
<rect x="611" y="243" width="3" height="9" fill="#000"/>
<rect x="612" y="244" width="1" height="7" fill="#BE0000"/>
<rect x="617" y="236" width="1" height="24" fill="#000"/>
<rect x="616" y="250" width="3" height="2" fill="#000"/>
<rect x="622" y="244" width="1" height="27" fill="#000"/>
<rect x="621" y="250" width="3" height="17" fill="#000"/>
<rect x="622" y="251" width="1" height="15" fill="#BE0000"/>
<rect x="627" y="253" width="1" height="17" fill="#000"/>
<rect x="626" y="257" width="3" height="11" fill="#000"/>
<rect x="627" y="258" width="1" height="9" fill="#00B400"/>
<rect x="632" y="232" width="1" height="47" fill="#000"/>
<rect x="631" y="257" width="3" height="8" fill="#000"/>
<rect x="632" y="258" width="1" height="6" fill="#BE0000"/>
<rect x="637" y="256" width="1" height="17" fill="#000"/>
<rect x="636" y="262" width="3" height="3" fill="#000"/>
<rect x="637" y="263" width="1" height="1" fill="#00B400"/>
<rect x="642" y="248" width="1" height="33" fill="#000"/>
<rect x="641" y="261" width="3" height="9" fill="#000"/>
<rect x="642" y="262" width="1" height="7" fill="#BE0000"/>
<rect x="647" y="245" width="1" height="26" fill="#000"/>
<rect x="646" y="264" width="3" height="7" fill="#000"/>
<rect x="647" y="265" width="1" height="5" fill="#00B400"/>
<rect x="652" y="253" width="1" height="12" fill="#000"/>
<rect x="651" y="258" width="3" height="7" fill="#000"/>
<rect x="652" y="259" width="1" height="5" fill="#00B400"/>
<rect x="657" y="254" width="1" height="10" fill="#000"/>
<rect x="656" y="258" width="3" height="2" fill="#000"/>
<rect x="662" y="241" width="1" height="24" fill="#000"/>
<rect x="661" y="259" width="3" height="2" fill="#000"/>
<rect x="667" y="252" width="1" height="13" fill="#000"/>
<rect x="666" y="259" width="3" height="4" fill="#000"/>
<rect x="667" y="260" width="1" height="2" fill="#BE0000"/>
<rect x="672" y="228" width="1" height="35" fill="#000"/>
<rect x="671" y="241" width="3" height="22" fill="#000"/>
<rect x="672" y="242" width="1" height="20" fill="#00B400"/>
<rect x="677" y="232" width="1" height="9" fill="#000"/>
<rect x="676" y="232" width="3" height="9" fill="#000"/>
<rect x="677" y="233" width="1" height="7" fill="#00B400"/>
<rect x="682" y="231" width="1" height="8" fill="#000"/>
<rect x="681" y="232" width="3" height="5" fill="#000"/>
<rect x="682" y="233" width="1" height="3" fill="#BE0000"/>
<rect x="687" y="232" width="1" height="12" fill="#000"/>
<rect x="686" y="235" width="3" height="2" fill="#000"/>
<rect x="692" y="226" width="1" height="12" fill="#000"/>
<rect x="691" y="229" width="3" height="7" fill="#000"/>
<rect x="692" y="230" width="1" height="5" fill="#00B400"/>
<rect x="697" y="211" width="1" height="19" fill="#000"/>
<rect x="696" y="212" width="3" height="18" fill="#000"/>
<rect x="697" y="213" width="1" height="16" fill="#00B400"/>
<rect x="702" y="210" width="1" height="10" fill="#000"/>
<rect x="701" y="212" width="3" height="4" fill="#000"/>
<rect x="702" y="213" width="1" height="2" fill="#BE0000"/>
<rect x="707" y="212" width="1" height="4" fill="#000"/>
<rect x="706" y="213" width="3" height="3" fill="#000"/>
<rect x="707" y="214" width="1" height="1" fill="#00B400"/>
<rect x="712" y="208" width="1" height="8" fill="#000"/>
<rect x="711" y="212" width="3" height="2" fill="#000"/>
<rect x="717" y="210" width="1" height="14" fill="#000"/>
<rect x="716" y="213" width="3" height="9" fill="#000"/>
<rect x="717" y="214" width="1" height="7" fill="#BE0000"/>
<rect x="722" y="216" width="1" height="17" fill="#000"/>
<rect x="721" y="221" width="3" height="12" fill="#000"/>
<rect x="722" y="222" width="1" height="10" fill="#BE0000"/>
<rect x="727" y="218" width="1" height="20" fill="#000"/>
<rect x="726" y="228" width="3" height="5" fill="#000"/>
<rect x="727" y="229" width="1" height="3" fill="#00B400"/>
<rect x="732" y="216" width="1" height="12" fill="#000"/>
<rect x="731" y="220" width="3" height="8" fill="#000"/>
<rect x="732" y="221" width="1" height="6" fill="#00B400"/>
<rect x="737" y="211" width="1" height="11" fill="#000"/>
<rect x="736" y="217" width="3" height="3" fill="#000"/>
<rect x="737" y="218" width="1" height="1" fill="#00B400"/>
<rect x="742" y="193" width="1" height="25" fill="#000"/>
<rect x="741" y="193" width="3" height="25" fill="#000"/>
<rect x="742" y="194" width="1" height="23" fill="#00B400"/>
<rect x="747" y="182" width="1" height="25" fill="#000"/>
<rect x="746" y="193" width="3" height="7" fill="#000"/>
<rect x="747" y="194" width="1" height="5" fill="#BE0000"/>
<rect x="752" y="184" width="1" height="24" fill="#000"/>
<rect x="751" y="196" width="3" height="4" fill="#000"/>
<rect x="752" y="197" width="1" height="2" fill="#00B400"/>
<rect x="757" y="175" width="1" height="36" fill="#000"/>
<rect x="756" y="196" width="3" height="12" fill="#000"/>
<rect x="757" y="197" width="1" height="10" fill="#BE0000"/>
<rect x="762" y="182" width="1" height="34" fill="#000"/>
<rect x="761" y="190" width="3" height="18" fill="#000"/>
<rect x="762" y="191" width="1" height="16" fill="#00B400"/>
<rect x="767" y="189" width="1" height="23" fill="#000"/>
<rect x="766" y="190" width="3" height="13" fill="#000"/>
<rect x="767" y="191" width="1" height="11" fill="#BE0000"/>
<rect x="772" y="194" width="1" height="19" fill="#000"/>
<rect x="771" y="202" width="3" height="4" fill="#000"/>
<rect x="772" y="203" width="1" height="2" fill="#BE0000"/>
<rect x="777" y="173" width="1" height="32" fill="#000"/>
<rect x="776" y="176" width="3" height="29" fill="#000"/>
<rect x="777" y="177" width="1" height="27" fill="#00B400"/>
<rect x="782" y="171" width="1" height="14" fill="#000"/>
<rect x="781" y="176" width="3" height="7" fill="#000"/>
<rect x="782" y="177" width="1" height="5" fill="#BE0000"/>
<rect x="787" y="181" width="1" height="21" fill="#000"/>
<rect x="786" y="182" width="3" height="18" fill="#000"/>
<rect x="787" y="183" width="1" height="16" fill="#BE0000"/>
<rect x="792" y="197" width="1" height="31" fill="#000"/>
<rect x="791" y="200" width="3" height="12" fill="#000"/>
<rect x="792" y="201" width="1" height="10" fill="#BE0000"/>
<rect x="797" y="202" width="1" height="17" fill="#000"/>
<rect x="796" y="212" width="3" height="5" fill="#000"/>
<rect x="797" y="213" width="1" height="3" fill="#BE0000"/>
<rect x="802" y="206" width="1" height="11" fill="#000"/>
<rect x="801" y="207" width="3" height="10" fill="#000"/>
<rect x="802" y="208" width="1" height="8" fill="#00B400"/>
<rect x="807" y="194" width="1" height="16" fill="#000"/>
<rect x="806" y="195" width="3" height="13" fill="#000"/>
<rect x="807" y="196" width="1" height="11" fill="#00B400"/>
<rect x="812" y="193" width="1" height="20" fill="#000"/>
<rect x="811" y="195" width="3" height="13" fill="#000"/>
<rect x="812" y="196" width="1" height="11" fill="#BE0000"/>
<rect x="817" y="200" width="1" height="16" fill="#000"/>
<rect x="816" y="207" width="3" height="4" fill="#000"/>
<rect x="817" y="208" width="1" height="2" fill="#BE0000"/>
<rect x="822" y="202" width="1" height="13" fill="#000"/>
<rect x="821" y="206" width="3" height="5" fill="#000"/>
<rect x="822" y="207" width="1" height="3" fill="#00B400"/>
<rect x="827" y="202" width="1" height="12" fill="#000"/>
<rect x="826" y="204" width="3" height="3" fill="#000"/>
<rect x="827" y="205" width="1" height="1" fill="#00B400"/>
<rect x="832" y="201" width="1" height="8" fill="#000"/>
<rect x="831" y="204" width="3" height="2" fill="#000"/>
<rect x="837" y="202" width="1" height="11" fill="#000"/>
<rect x="836" y="203" width="3" height="2" fill="#000"/>
<rect x="842" y="201" width="1" height="18" fill="#000"/>
<rect x="841" y="203" width="3" height="10" fill="#000"/>
<rect x="842" y="204" width="1" height="8" fill="#BE0000"/>
<rect x="847" y="205" width="1" height="13" fill="#000"/>
<rect x="846" y="207" width="3" height="5" fill="#000"/>
<rect x="847" y="208" width="1" height="3" fill="#00B400"/>
<rect x="852" y="186" width="1" height="24" fill="#000"/>
<rect x="851" y="193" width="3" height="15" fill="#000"/>
<rect x="852" y="194" width="1" height="13" fill="#00B400"/>
<rect x="857" y="190" width="1" height="7" fill="#000"/>
<rect x="856" y="193" width="3" height="2" fill="#000"/>
<rect x="862" y="182" width="1" height="12" fill="#000"/>
<rect x="861" y="185" width="3" height="9" fill="#000"/>
<rect x="862" y="186" width="1" height="7" fill="#00B400"/>
<rect x="867" y="173" width="1" height="25" fill="#000"/>
<rect x="866" y="182" width="3" height="4" fill="#000"/>
<rect x="867" y="183" width="1" height="2" fill="#00B400"/>
<rect x="872" y="100" width="1" height="88" fill="#000"/>
<rect x="871" y="100" width="3" height="83" fill="#000"/>
<rect x="872" y="101" width="1" height="81" fill="#00B400"/>
<rect x="877" y="79" width="1" height="43" fill="#000"/>
<rect x="876" y="100" width="3" height="18" fill="#000"/>
<rect x="877" y="101" width="1" height="16" fill="#BE0000"/>
<rect x="882" y="105" width="1" height="30" fill="#000"/>
<rect x="881" y="110" width="3" height="7" fill="#000"/>
<rect x="882" y="111" width="1" height="5" fill="#00B400"/>
<rect x="887" y="91" width="1" height="38" fill="#000"/>
<rect x="886" y="110" width="3" height="4" fill="#000"/>
<rect x="887" y="111" width="1" height="2" fill="#BE0000"/>
<rect x="892" y="113" width="1" height="39" fill="#000"/>
<rect x="891" y="113" width="3" height="35" fill="#000"/>
<rect x="892" y="114" width="1" height="33" fill="#BE0000"/>
<rect x="897" y="137" width="1" height="16" fill="#000"/>
<rect x="896" y="147" width="3" height="3" fill="#000"/>
<rect x="897" y="148" width="1" height="1" fill="#BE0000"/>
<rect x="902" y="144" width="1" height="16" fill="#000"/>
<rect x="901" y="147" width="3" height="3" fill="#000"/>
<rect x="902" y="148" width="1" height="1" fill="#00B400"/>
<rect x="907" y="134" width="1" height="22" fill="#000"/>
<rect x="906" y="135" width="3" height="13" fill="#000"/>
<rect x="907" y="136" width="1" height="11" fill="#00B400"/>
<rect x="912" y="134" width="1" height="15" fill="#000"/>
<rect x="911" y="135" width="3" height="9" fill="#000"/>
<rect x="912" y="136" width="1" height="7" fill="#BE0000"/>
<rect x="917" y="126" width="1" height="5" fill="#000"/>
<rect x="916" y="127" width="3" height="2" fill="#000"/>
<rect x="922" y="125" width="1" height="8" fill="#000"/>
<rect x="921" y="127" width="3" height="4" fill="#000"/>
<rect x="922" y="128" width="1" height="2" fill="#BE0000"/>
<rect x="927" y="116" width="1" height="15" fill="#000"/>
<rect x="926" y="118" width="3" height="13" fill="#000"/>
<rect x="927" y="119" width="1" height="11" fill="#00B400"/>
<rect x="932" y="118" width="1" height="16" fill="#000"/>
<rect x="931" y="119" width="3" height="10" fill="#000"/>
<rect x="932" y="120" width="1" height="8" fill="#BE0000"/>
<rect x="937" y="129" width="1" height="21" fill="#000"/>
<rect x="936" y="129" width="3" height="16" fill="#000"/>
<rect x="937" y="130" width="1" height="14" fill="#BE0000"/>
<rect x="942" y="141" width="1" height="6" fill="#000"/>
<rect x="941" y="144" width="3" height="3" fill="#000"/>
<rect x="942" y="145" width="1" height="1" fill="#BE0000"/>
<rect x="947" y="143" width="1" height="5" fill="#000"/>
<rect x="946" y="145" width="3" height="3" fill="#000"/>
<rect x="947" y="146" width="1" height="1" fill="#00B400"/>
<rect x="952" y="143" width="1" height="6" fill="#000"/>
<rect x="951" y="145" width="3" height="2" fill="#000"/>
<rect x="957" y="131" width="1" height="16" fill="#000"/>
<rect x="956" y="131" width="3" height="16" fill="#000"/>
<rect x="957" y="132" width="1" height="14" fill="#00B400"/>
<rect x="962" y="125" width="1" height="22" fill="#000"/>
<rect x="961" y="126" width="3" height="6" fill="#000"/>
<rect x="962" y="127" width="1" height="4" fill="#00B400"/>
<rect x="967" y="113" width="1" height="22" fill="#000"/>
<rect x="966" y="120" width="3" height="7" fill="#000"/>
<rect x="967" y="121" width="1" height="5" fill="#00B400"/>
<rect x="972" y="104" width="1" height="16" fill="#000"/>
<rect x="971" y="111" width="3" height="9" fill="#000"/>
<rect x="972" y="112" width="1" height="7" fill="#00B400"/>
<rect x="977" y="102" width="1" height="22" fill="#000"/>
<rect x="976" y="111" width="3" height="13" fill="#000"/>
<rect x="977" y="112" width="1" height="11" fill="#BE0000"/>
<rect x="982" y="100" width="1" height="24" fill="#000"/>
<rect x="981" y="106" width="3" height="18" fill="#000"/>
<rect x="982" y="107" width="1" height="16" fill="#00B400"/>
<rect x="987" y="101" width="1" height="23" fill="#000"/>
<rect x="986" y="106" width="3" height="14" fill="#000"/>
<rect x="987" y="107" width="1" height="12" fill="#BE0000"/>
<rect x="992" y="115" width="1" height="54" fill="#000"/>
<rect x="991" y="120" width="3" height="41" fill="#000"/>
<rect x="992" y="121" width="1" height="39" fill="#BE0000"/>
<rect x="997" y="155" width="1" height="28" fill="#000"/>
<rect x="996" y="160" width="3" height="9" fill="#000"/>
<rect x="997" y="161" width="1" height="7" fill="#BE0000"/>
<rect x="1002" y="157" width="1" height="33" fill="#000"/>
<rect x="1001" y="168" width="3" height="18" fill="#000"/>
<rect x="1002" y="169" width="1" height="16" fill="#BE0000"/>
<rect x="1007" y="167" width="1" height="22" fill="#000"/>
<rect x="1006" y="179" width="3" height="5" fill="#000"/>
<rect x="1007" y="180" width="1" height="3" fill="#00B400"/>
<rect x="1012" y="174" width="1" height="14" fill="#000"/>
<rect x="1011" y="179" width="3" height="7" fill="#000"/>
<rect x="1012" y="180" width="1" height="5" fill="#BE0000"/>
<rect x="1017" y="171" width="1" height="19" fill="#000"/>
<rect x="1016" y="177" width="3" height="9" fill="#000"/>
<rect x="1017" y="178" width="1" height="7" fill="#00B400"/>
<rect x="1022" y="177" width="1" height="16" fill="#000"/>
<rect x="1021" y="177" width="3" height="16" fill="#000"/>
<rect x="1022" y="178" width="1" height="14" fill="#BE0000"/>
<rect x="1027" y="192" width="1" height="20" fill="#000"/>
<rect x="1026" y="193" width="3" height="16" fill="#000"/>
<rect x="1027" y="194" width="1" height="14" fill="#BE0000"/>
<rect x="1032" y="186" width="1" height="22" fill="#000"/>
<rect x="1031" y="187" width="3" height="21" fill="#000"/>
<rect x="1032" y="188" width="1" height="19" fill="#00B400"/>
<rect x="1037" y="171" width="1" height="19" fill="#000"/>
<rect x="1036" y="174" width="3" height="14" fill="#000"/>
<rect x="1037" y="175" width="1" height="12" fill="#00B400"/>
<rect x="1042" y="154" width="1" height="25" fill="#000"/>
<rect x="1041" y="160" width="3" height="14" fill="#000"/>
<rect x="1042" y="161" width="1" height="12" fill="#00B400"/>
<rect x="1047" y="148" width="1" height="17" fill="#000"/>
<rect x="1046" y="156" width="3" height="5" fill="#000"/>
<rect x="1047" y="157" width="1" height="3" fill="#00B400"/>
<rect x="1052" y="138" width="1" height="22" fill="#000"/>
<rect x="1051" y="150" width="3" height="7" fill="#000"/>
<rect x="1052" y="151" width="1" height="5" fill="#00B400"/>
<rect x="1057" y="150" width="1" height="7" fill="#000"/>
<rect x="1056" y="150" width="3" height="7" fill="#000"/>
<rect x="1057" y="151" width="1" height="5" fill="#BE0000"/>
<rect x="1062" y="156" width="1" height="8" fill="#000"/>
<rect x="1061" y="156" width="3" height="3" fill="#000"/>
<rect x="1062" y="157" width="1" height="1" fill="#BE0000"/>
<rect x="1067" y="157" width="1" height="5" fill="#000"/>
<rect x="1066" y="159" width="3" height="3" fill="#000"/>
<rect x="1067" y="160" width="1" height="1" fill="#BE0000"/>
<rect x="1072" y="155" width="1" height="11" fill="#000"/>
<rect x="1071" y="162" width="3" height="2" fill="#000"/>
<rect x="1077" y="152" width="1" height="10" fill="#000"/>
<rect x="1076" y="157" width="3" height="5" fill="#000"/>
<rect x="1077" y="158" width="1" height="3" fill="#00B400"/>
<rect x="1082" y="143" width="1" height="20" fill="#000"/>
<rect x="1081" y="143" width="3" height="14" fill="#000"/>
<rect x="1082" y="144" width="1" height="12" fill="#00B400"/>
<rect x="1087" y="143" width="1" height="16" fill="#000"/>
<rect x="1086" y="143" width="3" height="2" fill="#000"/>
<rect x="1092" y="129" width="1" height="20" fill="#000"/>
<rect x="1091" y="136" width="3" height="9" fill="#000"/>
<rect x="1092" y="137" width="1" height="7" fill="#00B400"/>
<rect x="1097" y="122" width="1" height="24" fill="#000"/>
<rect x="1096" y="136" width="3" height="3" fill="#000"/>
<rect x="1097" y="137" width="1" height="1" fill="#BE0000"/>
<rect x="1102" y="132" width="1" height="11" fill="#000"/>
<rect x="1101" y="137" width="3" height="2" fill="#000"/>
<rect x="1107" y="133" width="1" height="15" fill="#000"/>
<rect x="1106" y="137" width="3" height="11" fill="#000"/>
<rect x="1107" y="138" width="1" height="9" fill="#BE0000"/>
<rect x="1112" y="133" width="1" height="24" fill="#000"/>
<rect x="1111" y="137" width="3" height="10" fill="#000"/>
<rect x="1112" y="138" width="1" height="8" fill="#00B400"/>
<rect x="1117" y="96" width="1" height="43" fill="#000"/>
<rect x="1116" y="102" width="3" height="35" fill="#000"/>
<rect x="1117" y="103" width="1" height="33" fill="#00B400"/>
<rect x="1122" y="85" width="1" height="34" fill="#000"/>
<rect x="1121" y="93" width="3" height="10" fill="#000"/>
<rect x="1122" y="94" width="1" height="8" fill="#00B400"/>
<rect x="1127" y="75" width="1" height="29" fill="#000"/>
<rect x="1126" y="94" width="3" height="2" fill="#000"/>
<rect x="1132" y="84" width="1" height="23" fill="#000"/>
<rect x="1131" y="93" width="3" height="2" fill="#000"/>
<rect x="1137" y="61" width="1" height="33" fill="#000"/>
<rect x="1136" y="65" width="3" height="29" fill="#000"/>
<rect x="1137" y="66" width="1" height="27" fill="#00B400"/>
<rect x="1142" y="61" width="1" height="27" fill="#000"/>
<rect x="1141" y="65" width="3" height="11" fill="#000"/>
<rect x="1142" y="66" width="1" height="9" fill="#BE0000"/>
<rect x="1147" y="69" width="1" height="17" fill="#000"/>
<rect x="1146" y="75" width="3" height="2" fill="#000"/>
<rect x="1152" y="68" width="1" height="10" fill="#000"/>
<rect x="1151" y="75" width="3" height="3" fill="#000"/>
<rect x="1152" y="76" width="1" height="1" fill="#BE0000"/>
<rect x="1157" y="69" width="1" height="9" fill="#000"/>
<rect x="1156" y="70" width="3" height="8" fill="#000"/>
<rect x="1157" y="71" width="1" height="6" fill="#00B400"/>
<rect x="1162" y="70" width="1" height="5" fill="#000"/>
<rect x="1161" y="70" width="3" height="5" fill="#000"/>
<rect x="1162" y="71" width="1" height="3" fill="#BE0000"/>
<rect x="1167" y="70" width="1" height="7" fill="#000"/>
<rect x="1166" y="72" width="3" height="3" fill="#000"/>
<rect x="1167" y="73" width="1" height="1" fill="#00B400"/>
<rect x="1172" y="41" width="1" height="32" fill="#000"/>
<rect x="1171" y="43" width="3" height="30" fill="#000"/>
<rect x="1172" y="44" width="1" height="28" fill="#00B400"/>
<rect x="1177" y="39" width="1" height="13" fill="#000"/>
<rect x="1176" y="43" width="3" height="3" fill="#000"/>
<rect x="1177" y="44" width="1" height="1" fill="#BE0000"/>
<rect x="1182" y="37" width="1" height="11" fill="#000"/>
<rect x="1181" y="45" width="3" height="2" fill="#000"/>
<rect x="1187" y="41" width="1" height="11" fill="#000"/>
<rect x="1186" y="41" width="3" height="5" fill="#000"/>
<rect x="1187" y="42" width="1" height="3" fill="#00B400"/>
<rect x="1192" y="39" width="1" height="11" fill="#000"/>
<rect x="1191" y="41" width="3" height="5" fill="#000"/>
<rect x="1192" y="42" width="1" height="3" fill="#BE0000"/>
<rect x="1197" y="41" width="1" height="11" fill="#000"/>
<rect x="1196" y="45" width="3" height="7" fill="#000"/>
<rect x="1197" y="46" width="1" height="5" fill="#BE0000"/>
<rect x="1202" y="42" width="1" height="15" fill="#000"/>
<rect x="1201" y="51" width="3" height="6" fill="#000"/>
<rect x="1202" y="52" width="1" height="4" fill="#BE0000"/>
<rect x="1207" y="34" width="1" height="28" fill="#000"/>
<rect x="1206" y="40" width="3" height="17" fill="#000"/>
<rect x="1207" y="41" width="1" height="15" fill="#00B400"/>
<rect x="1212" y="21" width="1" height="29" fill="#000"/>
<rect x="1211" y="40" width="3" height="8" fill="#000"/>
<rect x="1212" y="41" width="1" height="6" fill="#BE0000"/>
<rect x="1217" y="38" width="1" height="24" fill="#000"/>
<rect x="1216" y="45" width="3" height="3" fill="#000"/>
<rect x="1217" y="46" width="1" height="1" fill="#00B400"/>
<rect x="1222" y="44" width="1" height="14" fill="#000"/>
<rect x="1221" y="45" width="3" height="8" fill="#000"/>
<rect x="1222" y="46" width="1" height="6" fill="#BE0000"/>
<rect x="1227" y="50" width="1" height="21" fill="#000"/>
<rect x="1226" y="52" width="3" height="15" fill="#000"/>
<rect x="1227" y="53" width="1" height="13" fill="#BE0000"/>
<rect x="1232" y="51" width="1" height="39" fill="#000"/>
<rect x="1231" y="66" width="3" height="7" fill="#000"/>
<rect x="1232" y="67" width="1" height="5" fill="#BE0000"/>
<rect x="1237" y="58" width="1" height="28" fill="#000"/>
<rect x="1236" y="66" width="3" height="7" fill="#000"/>
<rect x="1237" y="67" width="1" height="5" fill="#00B400"/>
<rect x="1242" y="56" width="1" height="42" fill="#000"/>
<rect x="1241" y="66" width="3" height="24" fill="#000"/>
<rect x="1242" y="67" width="1" height="22" fill="#BE0000"/>
<rect x="1247" y="82" width="1" height="31" fill="#000"/>
<rect x="1246" y="89" width="3" height="8" fill="#000"/>
<rect x="1247" y="90" width="1" height="6" fill="#BE0000"/>
<rect x="1252" y="86" width="1" height="14" fill="#000"/>
<rect x="1251" y="93" width="3" height="4" fill="#000"/>
<rect x="1252" y="94" width="1" height="2" fill="#00B400"/>
<rect x="1257" y="72" width="1" height="22" fill="#000"/>
<rect x="1256" y="76" width="3" height="18" fill="#000"/>
<rect x="1257" y="77" width="1" height="16" fill="#00B400"/>
<rect x="1262" y="61" width="1" height="25" fill="#000"/>
<rect x="1261" y="68" width="3" height="10" fill="#000"/>
<rect x="1262" y="69" width="1" height="8" fill="#00B400"/>
<rect x="1267" y="65" width="1" height="21" fill="#000"/>
<rect x="1266" y="67" width="3" height="13" fill="#000"/>
<rect x="1267" y="68" width="1" height="11" fill="#BE0000"/>
<rect x="1272" y="77" width="1" height="18" fill="#000"/>
<rect x="1271" y="79" width="3" height="16" fill="#000"/>
<rect x="1272" y="80" width="1" height="14" fill="#BE0000"/>
<rect x="1277" y="78" width="1" height="17" fill="#000"/>
<rect x="1276" y="82" width="3" height="13" fill="#000"/>
<rect x="1277" y="83" width="1" height="11" fill="#00B400"/>
<rect x="1282" y="70" width="1" height="16" fill="#000"/>
<rect x="1281" y="73" width="3" height="10" fill="#000"/>
<rect x="1282" y="74" width="1" height="8" fill="#00B400"/>
<rect x="1287" y="56" width="1" height="19" fill="#000"/>
<rect x="1286" y="69" width="3" height="6" fill="#000"/>
<rect x="1287" y="70" width="1" height="4" fill="#00B400"/>
<rect x="1292" y="63" width="1" height="19" fill="#000"/>
<rect x="1291" y="69" width="3" height="7" fill="#000"/>
<rect x="1292" y="70" width="1" height="5" fill="#BE0000"/>
<rect x="1297" y="73" width="1" height="13" fill="#000"/>
<rect x="1296" y="75" width="3" height="11" fill="#000"/>
<rect x="1297" y="76" width="1" height="9" fill="#BE0000"/>
<rect x="1302" y="85" width="1" height="11" fill="#000"/>
<rect x="1301" y="85" width="3" height="9" fill="#000"/>
<rect x="1302" y="86" width="1" height="7" fill="#BE0000"/>
<rect x="1307" y="93" width="1" height="5" fill="#000"/>
<rect x="1306" y="93" width="3" height="5" fill="#000"/>
<rect x="1307" y="94" width="1" height="3" fill="#BE0000"/>
<rect x="1312" y="87" width="1" height="11" fill="#000"/>
<rect x="1311" y="89" width="3" height="9" fill="#000"/>
<rect x="1312" y="90" width="1" height="7" fill="#00B400"/>
<rect x="1317" y="84" width="1" height="12" fill="#000"/>
<rect x="1316" y="85" width="3" height="5" fill="#000"/>
<rect x="1317" y="86" width="1" height="3" fill="#00B400"/>
<rect x="1322" y="75" width="1" height="15" fill="#000"/>
<rect x="1321" y="85" width="3" height="2" fill="#000"/>
<rect x="1327" y="65" width="1" height="21" fill="#000"/>
<rect x="1326" y="78" width="3" height="8" fill="#000"/>
<rect x="1327" y="79" width="1" height="6" fill="#00B400"/>
<rect x="1332" y="76" width="1" height="19" fill="#000"/>
<rect x="1331" y="78" width="3" height="15" fill="#000"/>
<rect x="1332" y="79" width="1" height="13" fill="#BE0000"/>
<rect x="1337" y="88" width="1" height="11" fill="#000"/>
<rect x="1336" y="92" width="3" height="2" fill="#000"/>
<rect x="1342" y="88" width="1" height="17" fill="#000"/>
<rect x="1341" y="93" width="3" height="5" fill="#000"/>
<rect x="1342" y="94" width="1" height="3" fill="#BE0000"/>
<rect x="1347" y="94" width="1" height="18" fill="#000"/>
<rect x="1346" y="97" width="3" height="9" fill="#000"/>
<rect x="1347" y="98" width="1" height="7" fill="#BE0000"/>
<rect x="1352" y="90" width="1" height="32" fill="#000"/>
<rect x="1351" y="104" width="3" height="2" fill="#000"/>
<rect x="1357" y="103" width="1" height="28" fill="#000"/>
<rect x="1356" y="104" width="3" height="13" fill="#000"/>
<rect x="1357" y="105" width="1" height="11" fill="#BE0000"/>
<rect x="1362" y="99" width="1" height="31" fill="#000"/>
<rect x="1361" y="103" width="3" height="14" fill="#000"/>
<rect x="1362" y="104" width="1" height="12" fill="#00B400"/>
<rect x="1367" y="96" width="1" height="13" fill="#000"/>
<rect x="1366" y="103" width="3" height="3" fill="#000"/>
<rect x="1367" y="104" width="1" height="1" fill="#BE0000"/>
<rect x="1372" y="100" width="1" height="12" fill="#000"/>
<rect x="1371" y="105" width="3" height="2" fill="#000"/>
<rect x="1377" y="101" width="1" height="7" fill="#000"/>
<rect x="1376" y="106" width="3" height="2" fill="#000"/>
<rect x="1382" y="105" width="1" height="12" fill="#000"/>
<rect x="1381" y="106" width="3" height="8" fill="#000"/>
<rect x="1382" y="107" width="1" height="6" fill="#BE0000"/>
<rect x="1387" y="103" width="1" height="11" fill="#000"/>
<rect x="1386" y="105" width="3" height="9" fill="#000"/>
<rect x="1387" y="106" width="1" height="7" fill="#00B400"/>
<rect x="1392" y="93" width="1" height="13" fill="#000"/>
<rect x="1391" y="98" width="3" height="8" fill="#000"/>
<rect x="1392" y="99" width="1" height="6" fill="#00B400"/>
<rect x="1397" y="91" width="1" height="10" fill="#000"/>
<rect x="1396" y="95" width="3" height="3" fill="#000"/>
<rect x="1397" y="96" width="1" height="1" fill="#00B400"/>
<rect x="1402" y="93" width="1" height="3" fill="#000"/>
<rect x="1401" y="94" width="3" height="2" fill="#000"/>
<rect x="1407" y="93" width="1" height="10" fill="#000"/>
<rect x="1406" y="94" width="3" height="3" fill="#000"/>
<rect x="1407" y="95" width="1" height="1" fill="#BE0000"/>
<rect x="1412" y="94" width="1" height="10" fill="#000"/>
<rect x="1411" y="96" width="3" height="3" fill="#000"/>
<rect x="1412" y="97" width="1" height="1" fill="#BE0000"/>
<rect x="1417" y="86" width="1" height="16" fill="#000"/>
<rect x="1416" y="87" width="3" height="12" fill="#000"/>
<rect x="1417" y="88" width="1" height="10" fill="#00B400"/>
<rect x="1422" y="87" width="1" height="10" fill="#000"/>
<rect x="1421" y="88" width="3" height="7" fill="#000"/>
<rect x="1422" y="89" width="1" height="5" fill="#BE0000"/>
<rect x="1427" y="89" width="1" height="6" fill="#000"/>
<rect x="1426" y="92" width="3" height="3" fill="#000"/>
<rect x="1427" y="93" width="1" height="1" fill="#00B400"/>
<rect x="1432" y="90" width="1" height="5" fill="#000"/>
<rect x="1431" y="92" width="3" height="3" fill="#000"/>
<rect x="1432" y="93" width="1" height="1" fill="#BE0000"/>
<rect x="1437" y="89" width="1" height="8" fill="#000"/>
<rect x="1436" y="94" width="3" height="2" fill="#000"/>
<rect x="1442" y="87" width="1" height="13" fill="#000"/>
<rect x="1441" y="95" width="3" height="5" fill="#000"/>
<rect x="1442" y="96" width="1" height="3" fill="#BE0000"/>
<rect x="1447" y="89" width="1" height="14" fill="#000"/>
<rect x="1446" y="89" width="3" height="11" fill="#000"/>
<rect x="1447" y="90" width="1" height="9" fill="#00B400"/>
<rect x="1452" y="72" width="1" height="18" fill="#000"/>
<rect x="1451" y="77" width="3" height="13" fill="#000"/>
<rect x="1452" y="78" width="1" height="11" fill="#00B400"/>
<rect x="1457" y="73" width="1" height="21" fill="#000"/>
<rect x="1456" y="77" width="3" height="9" fill="#000"/>
<rect x="1457" y="78" width="1" height="7" fill="#BE0000"/>
<rect x="1462" y="69" width="1" height="17" fill="#000"/>
<rect x="1461" y="71" width="3" height="15" fill="#000"/>
<rect x="1462" y="72" width="1" height="13" fill="#00B400"/>
<rect x="1467" y="66" width="1" height="8" fill="#000"/>
<rect x="1466" y="71" width="3" height="3" fill="#000"/>
<rect x="1467" y="72" width="1" height="1" fill="#BE0000"/>
<rect x="1472" y="41" width="1" height="33" fill="#000"/>
<rect x="1471" y="66" width="3" height="8" fill="#000"/>
<rect x="1472" y="67" width="1" height="6" fill="#00B400"/>
<rect x="1477" y="58" width="1" height="17" fill="#000"/>
<rect x="1476" y="65" width="3" height="2" fill="#000"/>
<rect x="1482" y="32" width="1" height="44" fill="#000"/>
<rect x="1481" y="66" width="3" height="10" fill="#000"/>
<rect x="1482" y="67" width="1" height="8" fill="#BE0000"/>
<rect x="1487" y="57" width="1" height="23" fill="#000"/>
<rect x="1486" y="60" width="3" height="16" fill="#000"/>
<rect x="1487" y="61" width="1" height="14" fill="#00B400"/>
<rect x="1492" y="37" width="1" height="24" fill="#000"/>
<rect x="1491" y="53" width="3" height="8" fill="#000"/>
<rect x="1492" y="54" width="1" height="6" fill="#00B400"/>
<rect x="1497" y="29" width="1" height="24" fill="#000"/>
<rect x="1496" y="47" width="3" height="6" fill="#000"/>
<rect x="1497" y="48" width="1" height="4" fill="#00B400"/>
<rect x="1502" y="39" width="1" height="12" fill="#000"/>
<rect x="1501" y="44" width="3" height="4" fill="#000"/>
<rect x="1502" y="45" width="1" height="2" fill="#00B400"/>
<rect x="1507" y="38" width="1" height="7" fill="#000"/>
<rect x="1506" y="41" width="3" height="4" fill="#000"/>
<rect x="1507" y="42" width="1" height="2" fill="#00B400"/>
<rect x="1512" y="36" width="1" height="23" fill="#000"/>
<rect x="1511" y="40" width="3" height="15" fill="#000"/>
<rect x="1512" y="41" width="1" height="13" fill="#BE0000"/>
<rect x="1517" y="47" width="1" height="9" fill="#000"/>
<rect x="1516" y="47" width="3" height="7" fill="#000"/>
<rect x="1517" y="48" width="1" height="5" fill="#BE0000"/>
<rect x="1522" y="47" width="1" height="9" fill="#000"/>
<rect x="1521" y="51" width="3" height="3" fill="#000"/>
<rect x="1522" y="52" width="1" height="1" fill="#00B400"/>
<rect x="1527" y="50" width="1" height="26" fill="#000"/>
<rect x="1526" y="51" width="3" height="25" fill="#000"/>
<rect x="1527" y="52" width="1" height="23" fill="#BE0000"/>
<rect x="1532" y="71" width="1" height="10" fill="#000"/>
<rect x="1531" y="72" width="3" height="4" fill="#000"/>
<rect x="1532" y="73" width="1" height="2" fill="#00B400"/>
<rect x="1537" y="69" width="1" height="31" fill="#000"/>
<rect x="1536" y="72" width="3" height="9" fill="#000"/>
<rect x="1537" y="73" width="1" height="7" fill="#BE0000"/>
<rect x="1542" y="72" width="1" height="12" fill="#000"/>
<rect x="1541" y="73" width="3" height="7" fill="#000"/>
<rect x="1542" y="74" width="1" height="5" fill="#00B400"/>
<rect x="1547" y="66" width="1" height="10" fill="#000"/>
<rect x="1546" y="67" width="3" height="6" fill="#000"/>
<rect x="1547" y="68" width="1" height="4" fill="#00B400"/>
<rect x="1552" y="66" width="1" height="4" fill="#000"/>
</g>
<line x1="272" y1="397" x2="1581" y2="76.5" stroke="#00FF00" stroke-width="1"/>
<polyline points="272.5,523.5 877.5,78.5 1027.5,211.5 1212.5,20.5 1357.5,131" fill="none" stroke="#0000FF" stroke-width="1.1" stroke-linejoin="round"/>
<line x1="272" y1="184.5" x2="1331.5" y2="0" stroke="#FF0000" stroke-width="1"/>
<polyline points="1,467.4 40,469.5 77,471.6 105,473.1 182,473.5 220,469.2 240,468.5 395,468.5 420,466.9 433,466.3 466,464.3 500,462.6 533,459.6 566,453.6 599,447.3 613,443 633,439 666,432.4 712,423.7 739,419.7 766,414.7 805,407.1 832,399.8 859,393.1 879,386.5 915,373.9 950,361.5 987,346.8 1038,332.3 1109,308.7 1176,281.2 1254,249.8 1305,228.2 1352,210.5 1392,196 1439,179.1 1482,164.6 1529,147.7 1551,142.5" fill="none" stroke="#404040" stroke-width="1" shape-rendering="crispEdges"/>
<g shape-rendering="crispEdges">
<rect x="1551" y="66" width="30" height="1" fill="#000"/>
<rect x="1551" y="142" width="30" height="1" fill="#000"/>
<rect x="1553" y="610" width="28" height="1" fill="#000"/>
<rect x="1553" y="669" width="28" height="1" fill="#000"/>
<rect x="1553" y="681" width="28" height="1" fill="#000"/>
<rect x="1555" y="795" width="26" height="1" fill="#000"/>
<rect x="1553" y="856" width="28" height="1" fill="#000"/>
<rect x="1553" y="859" width="28" height="1" fill="#000"/>
<rect x="1555" y="866" width="26" height="1" fill="#000"/>
<rect x="81" y="794" width="3" height="1" fill="#0000FF"/>
<rect x="86" y="794" width="3" height="1" fill="#0000FF"/>
<rect x="91" y="792" width="3" height="3" fill="#0000FF"/>
<rect x="96" y="786" width="3" height="9" fill="#0000FF"/>
<rect x="101" y="792" width="3" height="3" fill="#0000FF"/>
<rect x="106" y="793" width="3" height="2" fill="#0000FF"/>
<rect x="111" y="792" width="3" height="3" fill="#0000FF"/>
<rect x="116" y="792" width="3" height="3" fill="#0000FF"/>
<rect x="121" y="788" width="3" height="7" fill="#0000FF"/>
<rect x="126" y="784" width="3" height="11" fill="#0000FF"/>
<rect x="131" y="786" width="3" height="9" fill="#0000FF"/>
<rect x="136" y="791" width="3" height="4" fill="#0000FF"/>
<rect x="141" y="784" width="3" height="11" fill="#0000FF"/>
<rect x="146" y="781" width="3" height="14" fill="#0000FF"/>
<rect x="151" y="784" width="3" height="11" fill="#0000FF"/>
<rect x="156" y="773" width="3" height="22" fill="#0000FF"/>
<rect x="161" y="764" width="3" height="31" fill="#0000FF"/>
<rect x="166" y="777" width="3" height="18" fill="#0000FF"/>
<rect x="171" y="787" width="3" height="8" fill="#0000FF"/>
<rect x="176" y="786" width="3" height="9" fill="#0000FF"/>
<rect x="181" y="780" width="3" height="15" fill="#0000FF"/>
<rect x="186" y="786" width="3" height="9" fill="#0000FF"/>
<rect x="191" y="789" width="3" height="6" fill="#0000FF"/>
<rect x="196" y="793" width="3" height="2" fill="#0000FF"/>
<rect x="201" y="794" width="3" height="1" fill="#0000FF"/>
<rect x="206" y="794" width="3" height="1" fill="#0000FF"/>
<rect x="211" y="791" width="3" height="4" fill="#0000FF"/>
<rect x="216" y="789" width="3" height="6" fill="#0000FF"/>
<rect x="221" y="791" width="3" height="4" fill="#0000FF"/>
<rect x="226" y="786" width="3" height="9" fill="#0000FF"/>
<rect x="231" y="789" width="3" height="6" fill="#0000FF"/>
<rect x="236" y="790" width="3" height="5" fill="#0000FF"/>
<rect x="241" y="789" width="3" height="6" fill="#0000FF"/>
<rect x="246" y="783" width="3" height="12" fill="#0000FF"/>
<rect x="251" y="786" width="3" height="9" fill="#0000FF"/>
<rect x="256" y="790" width="3" height="5" fill="#0000FF"/>
<rect x="261" y="786" width="3" height="9" fill="#0000FF"/>
<rect x="266" y="786" width="3" height="9" fill="#0000FF"/>
<rect x="271" y="765" width="3" height="30" fill="#0000FF"/>
<rect x="276" y="774" width="3" height="21" fill="#0000FF"/>
<rect x="281" y="779" width="3" height="16" fill="#0000FF"/>
<rect x="286" y="781" width="3" height="14" fill="#0000FF"/>
<rect x="291" y="783" width="3" height="12" fill="#0000FF"/>
<rect x="296" y="787" width="3" height="8" fill="#0000FF"/>
<rect x="301" y="785" width="3" height="10" fill="#0000FF"/>
<rect x="306" y="785" width="3" height="10" fill="#0000FF"/>
<rect x="311" y="791" width="3" height="4" fill="#0000FF"/>
<rect x="316" y="794" width="3" height="1" fill="#0000FF"/>
<rect x="321" y="793" width="3" height="2" fill="#0000FF"/>
<rect x="326" y="792" width="3" height="3" fill="#0000FF"/>
<rect x="331" y="787" width="3" height="8" fill="#0000FF"/>
<rect x="336" y="789" width="3" height="6" fill="#0000FF"/>
<rect x="341" y="790" width="3" height="5" fill="#0000FF"/>
<rect x="346" y="791" width="3" height="4" fill="#0000FF"/>
<rect x="351" y="791" width="3" height="4" fill="#0000FF"/>
<rect x="356" y="791" width="3" height="4" fill="#0000FF"/>
<rect x="361" y="780" width="3" height="15" fill="#0000FF"/>
<rect x="366" y="784" width="3" height="11" fill="#0000FF"/>
<rect x="371" y="786" width="3" height="9" fill="#0000FF"/>
<rect x="376" y="791" width="3" height="4" fill="#0000FF"/>
<rect x="381" y="789" width="3" height="6" fill="#0000FF"/>
<rect x="386" y="786" width="3" height="9" fill="#0000FF"/>
<rect x="391" y="782" width="3" height="13" fill="#0000FF"/>
<rect x="396" y="777" width="3" height="18" fill="#0000FF"/>
<rect x="401" y="773" width="3" height="22" fill="#0000FF"/>
<rect x="406" y="779" width="3" height="16" fill="#0000FF"/>
<rect x="411" y="783" width="3" height="12" fill="#0000FF"/>
<rect x="416" y="789" width="3" height="6" fill="#0000FF"/>
<rect x="421" y="788" width="3" height="7" fill="#0000FF"/>
<rect x="426" y="791" width="3" height="4" fill="#0000FF"/>
<rect x="431" y="790" width="3" height="5" fill="#0000FF"/>
<rect x="436" y="792" width="3" height="3" fill="#0000FF"/>
<rect x="441" y="791" width="3" height="4" fill="#0000FF"/>
<rect x="446" y="790" width="3" height="5" fill="#0000FF"/>
<rect x="451" y="788" width="3" height="7" fill="#0000FF"/>
<rect x="456" y="793" width="3" height="2" fill="#0000FF"/>
<rect x="461" y="792" width="3" height="3" fill="#0000FF"/>
<rect x="466" y="792" width="3" height="3" fill="#0000FF"/>
<rect x="471" y="791" width="3" height="4" fill="#0000FF"/>
<rect x="476" y="789" width="3" height="6" fill="#0000FF"/>
<rect x="481" y="789" width="3" height="6" fill="#0000FF"/>
<rect x="486" y="786" width="3" height="9" fill="#0000FF"/>
<rect x="491" y="778" width="3" height="17" fill="#0000FF"/>
<rect x="496" y="785" width="3" height="10" fill="#0000FF"/>
<rect x="501" y="788" width="3" height="7" fill="#0000FF"/>
<rect x="506" y="784" width="3" height="11" fill="#0000FF"/>
<rect x="511" y="772" width="3" height="23" fill="#0000FF"/>
<rect x="516" y="773" width="3" height="22" fill="#0000FF"/>
<rect x="521" y="757" width="3" height="38" fill="#0000FF"/>
<rect x="526" y="779" width="3" height="16" fill="#0000FF"/>
<rect x="531" y="781" width="3" height="14" fill="#0000FF"/>
<rect x="536" y="787" width="3" height="8" fill="#0000FF"/>
<rect x="541" y="787" width="3" height="8" fill="#0000FF"/>
<rect x="546" y="784" width="3" height="11" fill="#0000FF"/>
<rect x="551" y="786" width="3" height="9" fill="#0000FF"/>
<rect x="556" y="791" width="3" height="4" fill="#0000FF"/>
<rect x="561" y="791" width="3" height="4" fill="#0000FF"/>
<rect x="566" y="788" width="3" height="7" fill="#0000FF"/>
<rect x="571" y="789" width="3" height="6" fill="#0000FF"/>
<rect x="576" y="791" width="3" height="4" fill="#0000FF"/>
<rect x="581" y="790" width="3" height="5" fill="#0000FF"/>
<rect x="586" y="791" width="3" height="4" fill="#0000FF"/>
<rect x="591" y="789" width="3" height="6" fill="#0000FF"/>
<rect x="596" y="789" width="3" height="6" fill="#0000FF"/>
<rect x="601" y="784" width="3" height="11" fill="#0000FF"/>
<rect x="606" y="786" width="3" height="9" fill="#0000FF"/>
<rect x="611" y="788" width="3" height="7" fill="#0000FF"/>
<rect x="616" y="782" width="3" height="13" fill="#0000FF"/>
<rect x="621" y="785" width="3" height="10" fill="#0000FF"/>
<rect x="626" y="788" width="3" height="7" fill="#0000FF"/>
<rect x="631" y="766" width="3" height="29" fill="#0000FF"/>
<rect x="636" y="778" width="3" height="17" fill="#0000FF"/>
<rect x="641" y="777" width="3" height="18" fill="#0000FF"/>
<rect x="646" y="779" width="3" height="16" fill="#0000FF"/>
<rect x="651" y="787" width="3" height="8" fill="#0000FF"/>
<rect x="656" y="789" width="3" height="6" fill="#0000FF"/>
<rect x="661" y="774" width="3" height="21" fill="#0000FF"/>
<rect x="666" y="784" width="3" height="11" fill="#0000FF"/>
<rect x="671" y="784" width="3" height="11" fill="#0000FF"/>
<rect x="676" y="792" width="3" height="3" fill="#0000FF"/>
<rect x="681" y="791" width="3" height="4" fill="#0000FF"/>
<rect x="686" y="789" width="3" height="6" fill="#0000FF"/>
<rect x="691" y="788" width="3" height="7" fill="#0000FF"/>
<rect x="696" y="788" width="3" height="7" fill="#0000FF"/>
<rect x="701" y="791" width="3" height="4" fill="#0000FF"/>
<rect x="706" y="793" width="3" height="2" fill="#0000FF"/>
<rect x="711" y="790" width="3" height="5" fill="#0000FF"/>
<rect x="716" y="791" width="3" height="4" fill="#0000FF"/>
<rect x="721" y="788" width="3" height="7" fill="#0000FF"/>
<rect x="726" y="780" width="3" height="15" fill="#0000FF"/>
<rect x="731" y="781" width="3" height="14" fill="#0000FF"/>
<rect x="736" y="787" width="3" height="8" fill="#0000FF"/>
<rect x="741" y="787" width="3" height="8" fill="#0000FF"/>
<rect x="746" y="780" width="3" height="15" fill="#0000FF"/>
<rect x="751" y="766" width="3" height="29" fill="#0000FF"/>
<rect x="756" y="773" width="3" height="22" fill="#0000FF"/>
<rect x="761" y="775" width="3" height="20" fill="#0000FF"/>
<rect x="766" y="779" width="3" height="16" fill="#0000FF"/>
<rect x="771" y="786" width="3" height="9" fill="#0000FF"/>
<rect x="776" y="786" width="3" height="9" fill="#0000FF"/>
<rect x="781" y="788" width="3" height="7" fill="#0000FF"/>
<rect x="786" y="786" width="3" height="9" fill="#0000FF"/>
<rect x="791" y="786" width="3" height="9" fill="#0000FF"/>
<rect x="796" y="791" width="3" height="4" fill="#0000FF"/>
<rect x="801" y="789" width="3" height="6" fill="#0000FF"/>
<rect x="806" y="789" width="3" height="6" fill="#0000FF"/>
<rect x="811" y="791" width="3" height="4" fill="#0000FF"/>
<rect x="816" y="791" width="3" height="4" fill="#0000FF"/>
<rect x="821" y="792" width="3" height="3" fill="#0000FF"/>
<rect x="826" y="791" width="3" height="4" fill="#0000FF"/>
<rect x="831" y="792" width="3" height="3" fill="#0000FF"/>
<rect x="836" y="792" width="3" height="3" fill="#0000FF"/>
<rect x="841" y="790" width="3" height="5" fill="#0000FF"/>
<rect x="846" y="787" width="3" height="8" fill="#0000FF"/>
<rect x="851" y="786" width="3" height="9" fill="#0000FF"/>
<rect x="856" y="791" width="3" height="4" fill="#0000FF"/>
<rect x="861" y="788" width="3" height="7" fill="#0000FF"/>
<rect x="866" y="783" width="3" height="12" fill="#0000FF"/>
<rect x="871" y="734" width="3" height="61" fill="#0000FF"/>
<rect x="876" y="751" width="3" height="44" fill="#0000FF"/>
<rect x="881" y="765" width="3" height="30" fill="#0000FF"/>
<rect x="886" y="776" width="3" height="19" fill="#0000FF"/>
<rect x="891" y="775" width="3" height="20" fill="#0000FF"/>
<rect x="896" y="780" width="3" height="15" fill="#0000FF"/>
<rect x="901" y="786" width="3" height="9" fill="#0000FF"/>
<rect x="906" y="786" width="3" height="9" fill="#0000FF"/>
<rect x="911" y="789" width="3" height="6" fill="#0000FF"/>
<rect x="916" y="793" width="3" height="2" fill="#0000FF"/>
<rect x="921" y="792" width="3" height="3" fill="#0000FF"/>
<rect x="926" y="792" width="3" height="3" fill="#0000FF"/>
<rect x="931" y="788" width="3" height="7" fill="#0000FF"/>
<rect x="936" y="786" width="3" height="9" fill="#0000FF"/>
<rect x="941" y="790" width="3" height="5" fill="#0000FF"/>
<rect x="946" y="789" width="3" height="6" fill="#0000FF"/>
<rect x="951" y="791" width="3" height="4" fill="#0000FF"/>
<rect x="956" y="791" width="3" height="4" fill="#0000FF"/>
<rect x="961" y="788" width="3" height="7" fill="#0000FF"/>
<rect x="966" y="788" width="3" height="7" fill="#0000FF"/>
<rect x="971" y="787" width="3" height="8" fill="#0000FF"/>
<rect x="976" y="789" width="3" height="6" fill="#0000FF"/>
<rect x="981" y="786" width="3" height="9" fill="#0000FF"/>
<rect x="986" y="786" width="3" height="9" fill="#0000FF"/>
<rect x="991" y="774" width="3" height="21" fill="#0000FF"/>
<rect x="996" y="777" width="3" height="18" fill="#0000FF"/>
<rect x="1001" y="777" width="3" height="18" fill="#0000FF"/>
<rect x="1006" y="779" width="3" height="16" fill="#0000FF"/>
<rect x="1011" y="785" width="3" height="10" fill="#0000FF"/>
<rect x="1016" y="788" width="3" height="7" fill="#0000FF"/>
<rect x="1021" y="789" width="3" height="6" fill="#0000FF"/>
<rect x="1026" y="786" width="3" height="9" fill="#0000FF"/>
<rect x="1031" y="788" width="3" height="7" fill="#0000FF"/>
<rect x="1036" y="790" width="3" height="5" fill="#0000FF"/>
<rect x="1041" y="790" width="3" height="5" fill="#0000FF"/>
<rect x="1046" y="790" width="3" height="5" fill="#0000FF"/>
<rect x="1051" y="788" width="3" height="7" fill="#0000FF"/>
<rect x="1056" y="793" width="3" height="2" fill="#0000FF"/>
<rect x="1061" y="792" width="3" height="3" fill="#0000FF"/>
<rect x="1066" y="793" width="3" height="2" fill="#0000FF"/>
<rect x="1071" y="791" width="3" height="4" fill="#0000FF"/>
<rect x="1076" y="790" width="3" height="5" fill="#0000FF"/>
<rect x="1081" y="787" width="3" height="8" fill="#0000FF"/>
<rect x="1086" y="786" width="3" height="9" fill="#0000FF"/>
<rect x="1091" y="785" width="3" height="10" fill="#0000FF"/>
<rect x="1096" y="786" width="3" height="9" fill="#0000FF"/>
<rect x="1101" y="788" width="3" height="7" fill="#0000FF"/>
<rect x="1106" y="788" width="3" height="7" fill="#0000FF"/>
<rect x="1111" y="779" width="3" height="16" fill="#0000FF"/>
<rect x="1116" y="772" width="3" height="23" fill="#0000FF"/>
<rect x="1121" y="777" width="3" height="18" fill="#0000FF"/>
<rect x="1126" y="775" width="3" height="20" fill="#0000FF"/>
<rect x="1131" y="781" width="3" height="14" fill="#0000FF"/>
<rect x="1136" y="783" width="3" height="12" fill="#0000FF"/>
<rect x="1141" y="783" width="3" height="12" fill="#0000FF"/>
<rect x="1146" y="788" width="3" height="7" fill="#0000FF"/>
<rect x="1151" y="791" width="3" height="4" fill="#0000FF"/>
<rect x="1156" y="793" width="3" height="2" fill="#0000FF"/>
<rect x="1161" y="791" width="3" height="4" fill="#0000FF"/>
<rect x="1166" y="792" width="3" height="3" fill="#0000FF"/>
<rect x="1171" y="784" width="3" height="11" fill="#0000FF"/>
<rect x="1176" y="790" width="3" height="5" fill="#0000FF"/>
<rect x="1181" y="790" width="3" height="5" fill="#0000FF"/>
<rect x="1186" y="792" width="3" height="3" fill="#0000FF"/>
<rect x="1191" y="792" width="3" height="3" fill="#0000FF"/>
<rect x="1196" y="792" width="3" height="3" fill="#0000FF"/>
<rect x="1201" y="787" width="3" height="8" fill="#0000FF"/>
<rect x="1206" y="787" width="3" height="8" fill="#0000FF"/>
<rect x="1211" y="784" width="3" height="11" fill="#0000FF"/>
<rect x="1216" y="788" width="3" height="7" fill="#0000FF"/>
<rect x="1221" y="788" width="3" height="7" fill="#0000FF"/>
<rect x="1226" y="787" width="3" height="8" fill="#0000FF"/>
<rect x="1231" y="770" width="3" height="25" fill="#0000FF"/>
<rect x="1236" y="776" width="3" height="19" fill="#0000FF"/>
<rect x="1241" y="773" width="3" height="22" fill="#0000FF"/>
<rect x="1246" y="775" width="3" height="20" fill="#0000FF"/>
<rect x="1251" y="784" width="3" height="11" fill="#0000FF"/>
<rect x="1256" y="785" width="3" height="10" fill="#0000FF"/>
<rect x="1261" y="786" width="3" height="9" fill="#0000FF"/>
<rect x="1266" y="787" width="3" height="8" fill="#0000FF"/>
<rect x="1271" y="785" width="3" height="10" fill="#0000FF"/>
<rect x="1276" y="793" width="3" height="2" fill="#0000FF"/>
<rect x="1281" y="790" width="3" height="5" fill="#0000FF"/>
<rect x="1286" y="784" width="3" height="11" fill="#0000FF"/>
<rect x="1291" y="786" width="3" height="9" fill="#0000FF"/>
<rect x="1296" y="790" width="3" height="5" fill="#0000FF"/>
<rect x="1301" y="791" width="3" height="4" fill="#0000FF"/>
<rect x="1306" y="793" width="3" height="2" fill="#0000FF"/>
<rect x="1311" y="791" width="3" height="4" fill="#0000FF"/>
<rect x="1316" y="790" width="3" height="5" fill="#0000FF"/>
<rect x="1321" y="789" width="3" height="6" fill="#0000FF"/>
<rect x="1326" y="785" width="3" height="10" fill="#0000FF"/>
<rect x="1331" y="786" width="3" height="9" fill="#0000FF"/>
<rect x="1336" y="790" width="3" height="5" fill="#0000FF"/>
<rect x="1341" y="788" width="3" height="7" fill="#0000FF"/>
<rect x="1346" y="786" width="3" height="9" fill="#0000FF"/>
<rect x="1351" y="772" width="3" height="23" fill="#0000FF"/>
<rect x="1356" y="778" width="3" height="17" fill="#0000FF"/>
<rect x="1361" y="774" width="3" height="21" fill="#0000FF"/>
<rect x="1366" y="781" width="3" height="14" fill="#0000FF"/>
<rect x="1371" y="788" width="3" height="7" fill="#0000FF"/>
<rect x="1376" y="791" width="3" height="4" fill="#0000FF"/>
<rect x="1381" y="788" width="3" height="7" fill="#0000FF"/>
<rect x="1386" y="790" width="3" height="5" fill="#0000FF"/>
<rect x="1391" y="789" width="3" height="6" fill="#0000FF"/>
<rect x="1396" y="794" width="3" height="1" fill="#0000FF"/>
<rect x="1401" y="793" width="3" height="2" fill="#0000FF"/>
<rect x="1406" y="792" width="3" height="3" fill="#0000FF"/>
<rect x="1411" y="791" width="3" height="4" fill="#0000FF"/>
<rect x="1416" y="791" width="3" height="4" fill="#0000FF"/>
<rect x="1421" y="792" width="3" height="3" fill="#0000FF"/>
<rect x="1426" y="793" width="3" height="2" fill="#0000FF"/>
<rect x="1431" y="793" width="3" height="2" fill="#0000FF"/>
<rect x="1436" y="793" width="3" height="2" fill="#0000FF"/>
<rect x="1441" y="791" width="3" height="4" fill="#0000FF"/>
<rect x="1446" y="790" width="3" height="5" fill="#0000FF"/>
<rect x="1451" y="785" width="3" height="10" fill="#0000FF"/>
<rect x="1456" y="788" width="3" height="7" fill="#0000FF"/>
<rect x="1461" y="789" width="3" height="6" fill="#0000FF"/>
<rect x="1466" y="788" width="3" height="7" fill="#0000FF"/>
<rect x="1471" y="777" width="3" height="18" fill="#0000FF"/>
<rect x="1476" y="781" width="3" height="14" fill="#0000FF"/>
<rect x="1481" y="770" width="3" height="25" fill="#0000FF"/>
<rect x="1486" y="783" width="3" height="12" fill="#0000FF"/>
<rect x="1491" y="780" width="3" height="15" fill="#0000FF"/>
<rect x="1496" y="784" width="3" height="11" fill="#0000FF"/>
<rect x="1501" y="786" width="3" height="9" fill="#0000FF"/>
<rect x="1506" y="789" width="3" height="6" fill="#0000FF"/>
<rect x="1511" y="786" width="3" height="9" fill="#0000FF"/>
<rect x="1516" y="794" width="3" height="1" fill="#0000FF"/>
<rect x="1521" y="792" width="3" height="3" fill="#0000FF"/>
<rect x="1526" y="788" width="3" height="7" fill="#0000FF"/>
<rect x="1531" y="790" width="3" height="5" fill="#0000FF"/>
<rect x="1536" y="786" width="3" height="9" fill="#0000FF"/>
<rect x="1541" y="791" width="3" height="4" fill="#0000FF"/>
<rect x="1546" y="793" width="3" height="2" fill="#0000FF"/>
<rect x="1" y="861" width="3" height="2" fill="#FF0000"/>
<rect x="6" y="861" width="3" height="2" fill="#FF0000"/>
<rect x="11" y="861" width="3" height="2" fill="#FF0000"/>
<rect x="16" y="861" width="3" height="2" fill="#FF0000"/>
<rect x="21" y="861" width="3" height="2" fill="#FF0000"/>
<rect x="26" y="861" width="3" height="2" fill="#FF0000"/>
<rect x="31" y="861" width="3" height="2" fill="#FF0000"/>
<rect x="36" y="861" width="3" height="2" fill="#FF0000"/>
<rect x="41" y="861" width="3" height="2" fill="#FF0000"/>
<rect x="46" y="861" width="3" height="2" fill="#FF0000"/>
<rect x="51" y="861" width="3" height="2" fill="#FF0000"/>
<rect x="56" y="861" width="3" height="2" fill="#FF0000"/>
<rect x="61" y="861" width="3" height="2" fill="#FF0000"/>
<rect x="66" y="861" width="3" height="2" fill="#FF0000"/>
<rect x="71" y="861" width="3" height="2" fill="#FF0000"/>
<rect x="76" y="860" width="3" height="3" fill="#FF0000"/>
<rect x="81" y="859" width="3" height="4" fill="#FF0000"/>
<rect x="86" y="860" width="3" height="3" fill="#FF0000"/>
<rect x="91" y="860" width="3" height="3" fill="#FF0000"/>
<rect x="96" y="861" width="3" height="2" fill="#FF0000"/>
<rect x="101" y="862" width="3" height="1" fill="#FF0000"/>
<rect x="106" y="862" width="3" height="1" fill="#FF0000"/>
<rect x="111" y="862" width="3" height="1" fill="#FF0000"/>
<rect x="116" y="862" width="3" height="1" fill="#FF0000"/>
<rect x="121" y="862" width="3" height="1" fill="#FF0000"/>
<rect x="126" y="862" width="3" height="1" fill="#FF0000"/>
<rect x="131" y="862" width="3" height="1" fill="#FF0000"/>
<rect x="136" y="862" width="3" height="1" fill="#FF0000"/>
<rect x="141" y="862" width="3" height="1" fill="#FF0000"/>
<rect x="146" y="862" width="3" height="1" fill="#FF0000"/>
<rect x="151" y="862" width="3" height="1" fill="#FF0000"/>
<rect x="156" y="863" width="3" height="4" fill="#FF0000"/>
<rect x="161" y="863" width="3" height="3" fill="#FF0000"/>
<rect x="166" y="863" width="3" height="2" fill="#FF0000"/>
<rect x="171" y="863" width="3" height="1" fill="#FF0000"/>
<rect x="176" y="862" width="3" height="1" fill="#FF0000"/>
<rect x="181" y="860" width="3" height="3" fill="#FF0000"/>
<rect x="186" y="858" width="3" height="5" fill="#FF0000"/>
<rect x="191" y="858" width="3" height="5" fill="#FF0000"/>
<rect x="196" y="857" width="3" height="6" fill="#FF0000"/>
<rect x="201" y="858" width="3" height="5" fill="#FF0000"/>
<rect x="206" y="858" width="3" height="5" fill="#FF0000"/>
<rect x="211" y="859" width="3" height="4" fill="#FF0000"/>
<rect x="216" y="860" width="3" height="3" fill="#FF0000"/>
<rect x="221" y="862" width="3" height="1" fill="#FF0000"/>
<rect x="226" y="863" width="3" height="2" fill="#FF0000"/>
<rect x="231" y="863" width="3" height="2" fill="#FF0000"/>
<rect x="236" y="863" width="3" height="3" fill="#FF0000"/>
<rect x="241" y="863" width="3" height="3" fill="#FF0000"/>
<rect x="246" y="863" width="3" height="4" fill="#FF0000"/>
<rect x="251" y="863" width="3" height="4" fill="#FF0000"/>
<rect x="256" y="863" width="3" height="5" fill="#FF0000"/>
<rect x="261" y="863" width="3" height="6" fill="#FF0000"/>
<rect x="266" y="863" width="3" height="8" fill="#FF0000"/>
<rect x="271" y="863" width="3" height="8" fill="#FF0000"/>
<rect x="276" y="863" width="3" height="8" fill="#FF0000"/>
<rect x="281" y="863" width="3" height="7" fill="#FF0000"/>
<rect x="286" y="863" width="3" height="8" fill="#FF0000"/>
<rect x="291" y="863" width="3" height="7" fill="#FF0000"/>
<rect x="296" y="863" width="3" height="6" fill="#FF0000"/>
<rect x="301" y="863" width="3" height="4" fill="#FF0000"/>
<rect x="306" y="863" width="3" height="2" fill="#FF0000"/>
<rect x="316" y="862" width="3" height="1" fill="#FF0000"/>
<rect x="321" y="862" width="3" height="1" fill="#FF0000"/>
<rect x="326" y="862" width="3" height="1" fill="#FF0000"/>
<rect x="336" y="862" width="3" height="1" fill="#FF0000"/>
<rect x="341" y="862" width="3" height="1" fill="#FF0000"/>
<rect x="366" y="862" width="3" height="1" fill="#FF0000"/>
<rect x="371" y="862" width="3" height="1" fill="#FF0000"/>
<rect x="376" y="862" width="3" height="1" fill="#FF0000"/>
<rect x="381" y="860" width="3" height="3" fill="#FF0000"/>
<rect x="386" y="858" width="3" height="5" fill="#FF0000"/>
<rect x="391" y="856" width="3" height="7" fill="#FF0000"/>
<rect x="396" y="854" width="3" height="9" fill="#FF0000"/>
<rect x="401" y="853" width="3" height="10" fill="#FF0000"/>
<rect x="406" y="855" width="3" height="8" fill="#FF0000"/>
<rect x="411" y="858" width="3" height="5" fill="#FF0000"/>
<rect x="416" y="859" width="3" height="4" fill="#FF0000"/>
<rect x="421" y="860" width="3" height="3" fill="#FF0000"/>
<rect x="426" y="861" width="3" height="2" fill="#FF0000"/>
<rect x="431" y="862" width="3" height="1" fill="#FF0000"/>
<rect x="436" y="862" width="3" height="1" fill="#FF0000"/>
<rect x="441" y="862" width="3" height="1" fill="#FF0000"/>
<rect x="446" y="862" width="3" height="1" fill="#FF0000"/>
<rect x="451" y="861" width="3" height="2" fill="#FF0000"/>
<rect x="456" y="861" width="3" height="2" fill="#FF0000"/>
<rect x="461" y="861" width="3" height="2" fill="#FF0000"/>
<rect x="466" y="860" width="3" height="3" fill="#FF0000"/>
<rect x="471" y="860" width="3" height="3" fill="#FF0000"/>
<rect x="476" y="860" width="3" height="3" fill="#FF0000"/>
<rect x="481" y="862" width="3" height="1" fill="#FF0000"/>
<rect x="486" y="862" width="3" height="1" fill="#FF0000"/>
<rect x="491" y="862" width="3" height="1" fill="#FF0000"/>
<rect x="496" y="862" width="3" height="1" fill="#FF0000"/>
<rect x="501" y="861" width="3" height="2" fill="#FF0000"/>
<rect x="506" y="861" width="3" height="2" fill="#FF0000"/>
<rect x="511" y="860" width="3" height="3" fill="#FF0000"/>
<rect x="516" y="859" width="3" height="4" fill="#FF0000"/>
<rect x="521" y="856" width="3" height="7" fill="#FF0000"/>
<rect x="526" y="855" width="3" height="8" fill="#FF0000"/>
<rect x="531" y="854" width="3" height="9" fill="#FF0000"/>
<rect x="536" y="854" width="3" height="9" fill="#FF0000"/>
<rect x="541" y="853" width="3" height="10" fill="#FF0000"/>
<rect x="546" y="853" width="3" height="10" fill="#FF0000"/>
<rect x="551" y="854" width="3" height="9" fill="#FF0000"/>
<rect x="556" y="856" width="3" height="7" fill="#FF0000"/>
<rect x="561" y="858" width="3" height="5" fill="#FF0000"/>
<rect x="566" y="858" width="3" height="5" fill="#FF0000"/>
<rect x="571" y="858" width="3" height="5" fill="#FF0000"/>
<rect x="576" y="858" width="3" height="5" fill="#FF0000"/>
<rect x="581" y="860" width="3" height="3" fill="#FF0000"/>
<rect x="586" y="860" width="3" height="3" fill="#FF0000"/>
<rect x="591" y="860" width="3" height="3" fill="#FF0000"/>
<rect x="596" y="861" width="3" height="2" fill="#FF0000"/>
<rect x="601" y="861" width="3" height="2" fill="#FF0000"/>
<rect x="606" y="861" width="3" height="2" fill="#FF0000"/>
<rect x="616" y="863" width="3" height="1" fill="#FF0000"/>
<rect x="621" y="863" width="3" height="3" fill="#FF0000"/>
<rect x="626" y="863" width="3" height="5" fill="#FF0000"/>
<rect x="631" y="863" width="3" height="6" fill="#FF0000"/>
<rect x="636" y="863" width="3" height="6" fill="#FF0000"/>
<rect x="641" y="863" width="3" height="8" fill="#FF0000"/>
<rect x="646" y="863" width="3" height="8" fill="#FF0000"/>
<rect x="651" y="863" width="3" height="8" fill="#FF0000"/>
<rect x="656" y="863" width="3" height="8" fill="#FF0000"/>
<rect x="661" y="863" width="3" height="7" fill="#FF0000"/>
<rect x="666" y="863" width="3" height="7" fill="#FF0000"/>
<rect x="671" y="863" width="3" height="6" fill="#FF0000"/>
<rect x="676" y="863" width="3" height="4" fill="#FF0000"/>
<rect x="681" y="863" width="3" height="3" fill="#FF0000"/>
<rect x="686" y="863" width="3" height="3" fill="#FF0000"/>
<rect x="691" y="863" width="3" height="2" fill="#FF0000"/>
<rect x="696" y="863" width="3" height="1" fill="#FF0000"/>
<rect x="716" y="863" width="3" height="1" fill="#FF0000"/>
<rect x="721" y="863" width="3" height="3" fill="#FF0000"/>
<rect x="726" y="863" width="3" height="4" fill="#FF0000"/>
<rect x="731" y="863" width="3" height="4" fill="#FF0000"/>
<rect x="736" y="863" width="3" height="3" fill="#FF0000"/>
<rect x="741" y="863" width="3" height="2" fill="#FF0000"/>
<rect x="746" y="862" width="3" height="1" fill="#FF0000"/>
<rect x="751" y="862" width="3" height="1" fill="#FF0000"/>
<rect x="756" y="862" width="3" height="1" fill="#FF0000"/>
<rect x="761" y="862" width="3" height="1" fill="#FF0000"/>
<rect x="766" y="862" width="3" height="1" fill="#FF0000"/>
<rect x="771" y="863" width="3" height="2" fill="#FF0000"/>
<rect x="776" y="862" width="3" height="1" fill="#FF0000"/>
<rect x="786" y="863" width="3" height="2" fill="#FF0000"/>
<rect x="791" y="863" width="3" height="4" fill="#FF0000"/>
<rect x="796" y="863" width="3" height="5" fill="#FF0000"/>
<rect x="801" y="863" width="3" height="5" fill="#FF0000"/>
<rect x="806" y="863" width="3" height="5" fill="#FF0000"/>
<rect x="811" y="863" width="3" height="5" fill="#FF0000"/>
<rect x="816" y="863" width="3" height="5" fill="#FF0000"/>
<rect x="821" y="863" width="3" height="5" fill="#FF0000"/>
<rect x="826" y="863" width="3" height="5" fill="#FF0000"/>
<rect x="831" y="863" width="3" height="4" fill="#FF0000"/>
<rect x="836" y="863" width="3" height="4" fill="#FF0000"/>
<rect x="841" y="863" width="3" height="4" fill="#FF0000"/>
<rect x="846" y="863" width="3" height="4" fill="#FF0000"/>
<rect x="851" y="863" width="3" height="3" fill="#FF0000"/>
<rect x="856" y="863" width="3" height="2" fill="#FF0000"/>
<rect x="861" y="863" width="3" height="1" fill="#FF0000"/>
<rect x="871" y="856" width="3" height="7" fill="#FF0000"/>
<rect x="876" y="853" width="3" height="10" fill="#FF0000"/>
<rect x="881" y="852" width="3" height="11" fill="#FF0000"/>
<rect x="886" y="852" width="3" height="11" fill="#FF0000"/>
<rect x="891" y="856" width="3" height="7" fill="#FF0000"/>
<rect x="896" y="858" width="3" height="5" fill="#FF0000"/>
<rect x="901" y="861" width="3" height="2" fill="#FF0000"/>
<rect x="906" y="861" width="3" height="2" fill="#FF0000"/>
<rect x="936" y="863" width="3" height="2" fill="#FF0000"/>
<rect x="941" y="863" width="3" height="4" fill="#FF0000"/>
<rect x="946" y="863" width="3" height="5" fill="#FF0000"/>
<rect x="951" y="863" width="3" height="5" fill="#FF0000"/>
<rect x="956" y="863" width="3" height="3" fill="#FF0000"/>
<rect x="961" y="863" width="3" height="3" fill="#FF0000"/>
<rect x="966" y="863" width="3" height="2" fill="#FF0000"/>
<rect x="971" y="863" width="3" height="1" fill="#FF0000"/>
<rect x="976" y="863" width="3" height="1" fill="#FF0000"/>
<rect x="986" y="863" width="3" height="1" fill="#FF0000"/>
<rect x="991" y="863" width="3" height="4" fill="#FF0000"/>
<rect x="996" y="863" width="3" height="7" fill="#FF0000"/>
<rect x="1001" y="863" width="3" height="10" fill="#FF0000"/>
<rect x="1006" y="863" width="3" height="11" fill="#FF0000"/>
<rect x="1011" y="863" width="3" height="11" fill="#FF0000"/>
<rect x="1016" y="863" width="3" height="11" fill="#FF0000"/>
<rect x="1021" y="863" width="3" height="11" fill="#FF0000"/>
<rect x="1026" y="863" width="3" height="12" fill="#FF0000"/>
<rect x="1031" y="863" width="3" height="10" fill="#FF0000"/>
<rect x="1036" y="863" width="3" height="6" fill="#FF0000"/>
<rect x="1041" y="863" width="3" height="4" fill="#FF0000"/>
<rect x="1046" y="863" width="3" height="2" fill="#FF0000"/>
<rect x="1056" y="862" width="3" height="1" fill="#FF0000"/>
<rect x="1061" y="861" width="3" height="2" fill="#FF0000"/>
<rect x="1066" y="861" width="3" height="2" fill="#FF0000"/>
<rect x="1071" y="861" width="3" height="2" fill="#FF0000"/>
<rect x="1076" y="861" width="3" height="2" fill="#FF0000"/>
<rect x="1081" y="860" width="3" height="3" fill="#FF0000"/>
<rect x="1086" y="860" width="3" height="3" fill="#FF0000"/>
<rect x="1091" y="859" width="3" height="4" fill="#FF0000"/>
<rect x="1096" y="859" width="3" height="4" fill="#FF0000"/>
<rect x="1101" y="859" width="3" height="4" fill="#FF0000"/>
<rect x="1106" y="860" width="3" height="3" fill="#FF0000"/>
<rect x="1111" y="860" width="3" height="3" fill="#FF0000"/>
<rect x="1116" y="858" width="3" height="5" fill="#FF0000"/>
<rect x="1121" y="856" width="3" height="7" fill="#FF0000"/>
<rect x="1126" y="855" width="3" height="8" fill="#FF0000"/>
<rect x="1131" y="854" width="3" height="9" fill="#FF0000"/>
<rect x="1136" y="853" width="3" height="10" fill="#FF0000"/>
<rect x="1141" y="854" width="3" height="9" fill="#FF0000"/>
<rect x="1146" y="855" width="3" height="8" fill="#FF0000"/>
<rect x="1151" y="856" width="3" height="7" fill="#FF0000"/>
<rect x="1156" y="858" width="3" height="5" fill="#FF0000"/>
<rect x="1161" y="858" width="3" height="5" fill="#FF0000"/>
<rect x="1166" y="859" width="3" height="4" fill="#FF0000"/>
<rect x="1171" y="858" width="3" height="5" fill="#FF0000"/>
<rect x="1176" y="858" width="3" height="5" fill="#FF0000"/>
<rect x="1181" y="859" width="3" height="4" fill="#FF0000"/>
<rect x="1186" y="859" width="3" height="4" fill="#FF0000"/>
<rect x="1191" y="860" width="3" height="3" fill="#FF0000"/>
<rect x="1196" y="862" width="3" height="1" fill="#FF0000"/>
<rect x="1201" y="862" width="3" height="1" fill="#FF0000"/>
<rect x="1206" y="862" width="3" height="1" fill="#FF0000"/>
<rect x="1211" y="862" width="3" height="1" fill="#FF0000"/>
<rect x="1216" y="862" width="3" height="1" fill="#FF0000"/>
<rect x="1221" y="863" width="3" height="3" fill="#FF0000"/>
<rect x="1226" y="863" width="3" height="5" fill="#FF0000"/>
<rect x="1231" y="863" width="3" height="7" fill="#FF0000"/>
<rect x="1236" y="863" width="3" height="8" fill="#FF0000"/>
<rect x="1241" y="863" width="3" height="9" fill="#FF0000"/>
<rect x="1246" y="863" width="3" height="10" fill="#FF0000"/>
<rect x="1251" y="863" width="3" height="11" fill="#FF0000"/>
<rect x="1256" y="863" width="3" height="9" fill="#FF0000"/>
<rect x="1261" y="863" width="3" height="8" fill="#FF0000"/>
<rect x="1266" y="863" width="3" height="7" fill="#FF0000"/>
<rect x="1271" y="863" width="3" height="6" fill="#FF0000"/>
<rect x="1276" y="863" width="3" height="6" fill="#FF0000"/>
<rect x="1281" y="863" width="3" height="4" fill="#FF0000"/>
<rect x="1286" y="863" width="3" height="3" fill="#FF0000"/>
<rect x="1291" y="863" width="3" height="3" fill="#FF0000"/>
<rect x="1296" y="863" width="3" height="3" fill="#FF0000"/>
<rect x="1301" y="863" width="3" height="3" fill="#FF0000"/>
<rect x="1306" y="863" width="3" height="5" fill="#FF0000"/>
<rect x="1311" y="863" width="3" height="3" fill="#FF0000"/>
<rect x="1316" y="863" width="3" height="3" fill="#FF0000"/>
<rect x="1321" y="863" width="3" height="2" fill="#FF0000"/>
<rect x="1326" y="863" width="3" height="2" fill="#FF0000"/>
<rect x="1331" y="863" width="3" height="2" fill="#FF0000"/>
<rect x="1336" y="863" width="3" height="2" fill="#FF0000"/>
<rect x="1341" y="863" width="3" height="2" fill="#FF0000"/>
<rect x="1346" y="863" width="3" height="2" fill="#FF0000"/>
<rect x="1351" y="863" width="3" height="3" fill="#FF0000"/>
<rect x="1356" y="863" width="3" height="3" fill="#FF0000"/>
<rect x="1361" y="863" width="3" height="3" fill="#FF0000"/>
<rect x="1366" y="863" width="3" height="2" fill="#FF0000"/>
<rect x="1371" y="863" width="3" height="2" fill="#FF0000"/>
<rect x="1376" y="863" width="3" height="1" fill="#FF0000"/>
<rect x="1381" y="863" width="3" height="1" fill="#FF0000"/>
<rect x="1386" y="862" width="3" height="1" fill="#FF0000"/>
<rect x="1396" y="862" width="3" height="1" fill="#FF0000"/>
<rect x="1401" y="862" width="3" height="1" fill="#FF0000"/>
<rect x="1406" y="862" width="3" height="1" fill="#FF0000"/>
<rect x="1411" y="862" width="3" height="1" fill="#FF0000"/>
<rect x="1416" y="862" width="3" height="1" fill="#FF0000"/>
<rect x="1421" y="862" width="3" height="1" fill="#FF0000"/>
<rect x="1426" y="862" width="3" height="1" fill="#FF0000"/>
<rect x="1431" y="862" width="3" height="1" fill="#FF0000"/>
<rect x="1436" y="862" width="3" height="1" fill="#FF0000"/>
<rect x="1441" y="862" width="3" height="1" fill="#FF0000"/>
<rect x="1446" y="862" width="3" height="1" fill="#FF0000"/>
<rect x="1451" y="860" width="3" height="3" fill="#FF0000"/>
<rect x="1456" y="860" width="3" height="3" fill="#FF0000"/>
<rect x="1461" y="860" width="3" height="3" fill="#FF0000"/>
<rect x="1466" y="860" width="3" height="3" fill="#FF0000"/>
<rect x="1471" y="859" width="3" height="4" fill="#FF0000"/>
<rect x="1476" y="860" width="3" height="3" fill="#FF0000"/>
<rect x="1481" y="860" width="3" height="3" fill="#FF0000"/>
<rect x="1486" y="860" width="3" height="3" fill="#FF0000"/>
<rect x="1491" y="859" width="3" height="4" fill="#FF0000"/>
<rect x="1496" y="858" width="3" height="5" fill="#FF0000"/>
<rect x="1501" y="858" width="3" height="5" fill="#FF0000"/>
<rect x="1506" y="858" width="3" height="5" fill="#FF0000"/>
<rect x="1511" y="860" width="3" height="3" fill="#FF0000"/>
<rect x="1516" y="861" width="3" height="2" fill="#FF0000"/>
<rect x="1521" y="861" width="3" height="2" fill="#FF0000"/>
<rect x="1526" y="863" width="3" height="1" fill="#FF0000"/>
<rect x="1531" y="863" width="3" height="2" fill="#FF0000"/>
<rect x="1536" y="863" width="3" height="4" fill="#FF0000"/>
<rect x="1541" y="863" width="3" height="4" fill="#FF0000"/>
<rect x="1546" y="863" width="3" height="4" fill="#FF0000"/>
<rect x="1551" y="863" width="3" height="3" fill="#FF0000"/>
</g>
<polyline points="0.0,624.4 72.3,624.4 74.3,607.1 77.5,583.5 81.8,584.8 84.2,589.7 87.2,600.9 92.2,602.6 97.9,612.5 102.3,616.2 107.3,611.5 112.2,619.5 117.7,613.3 122.4,600.9 127.1,614.0 132.5,609.5 137.5,607.1 142.4,599.1 147.4,605.3 152.4,618.2 157.6,633.8 162.5,610.3 167.5,612.5 173.4,609.5 179.6,604.6 184.6,600.9 188.3,599.1 195.7,601.4 212.6,601.4 218.0,607.8 223.0,610.8 227.9,616.5 232.9,615.0 237.8,611.3 242.3,606.6 247.7,617.0 251.5,618.5 256.4,617.5 262.6,621.9 267.6,626.4 271.8,627.4 276.2,625.6 281.7,624.4 286.9,628.1 291.6,629.4 297.3,623.7 302.2,624.4 307.2,610.8 312.1,610.3 317.1,612.0 322.1,614.0 327.0,621.2 333.2,621.4 338.2,622.4 344.4,620.7 349.3,618.2 353.0,617.5 358.0,619.5 362.9,623.7 367.9,613.3 372.3,613.3 377.3,617.5 382.7,604.6 387.7,599.1 392.7,591.7 402.6,591.5 407.5,602.6 412.4,607.8 417.3,610.3 422.3,605.3 427.3,606.3 432.2,604.6 437.2,602.6 443.4,602.1 447.6,600.9 452.5,596.4 457.5,598.4 462.4,596.4 467.4,594.2 472.3,591.5 477.3,596.4 482.2,602.1 487.2,597.7 492.2,596.4 497.9,592.7 502.8,591.5 507.0,593.4 512.0,586.0 517.7,584.8 522.1,577.3 527.6,580.3 532.5,578.1 537.5,578.1 542.4,575.4 547.4,574.4 552.9,579.3 557.8,578.1 562.8,577.3 567.7,575.4 572.7,574.4 578.4,574.1 582.6,573.1 587.5,574.1 592.0,571.9 597.4,575.4 602.4,573.1 607.4,573.1 612.3,579.1 617.3,579.3 619.7,584.8 622.2,592.2 627.2,589.7 632.1,594.2 637.1,593.4 642.8,598.4 647.7,596.4 652.7,594.2 657.6,595.4 662.6,595.4 667.6,597.7 671.8,590.5 676.7,587.3 682.4,590.5 687.4,590.2 692.3,588.0 697.3,583.5 702.7,586.8 707.2,586.0 712.6,586.5 717.6,593.4 722.5,602.6 727.5,600.1 733.2,596.7 737.4,595.4 742.4,587.3 747.3,592.2 752.3,590.2 757.2,599.1 762.2,593.4 767.1,599.6 772.1,602.6 777.1,593.4 782.7,596.7 787.7,605.3 792.7,610.0 797.1,612.5 802.6,608.3 807.5,604.6 812.4,609.5 817.3,611.5 822.3,609.5 827.3,608.3 837.2,608.3 842.6,612.5 847.6,610.0 852.5,604.6 857.5,602.9 862.4,600.4 867.4,598.9 872.3,580.3 877.3,588.0 882.2,587.3 887.2,589.0 892.2,602.9 897.1,604.6 902.1,603.4 907.0,600.4 912.0,602.9 917.7,599.1 921.9,600.1 927.6,597.7 932.5,602.6 937.5,608.3 942.4,609.5 947.4,608.3 952.4,608.3 957.8,603.4 962.8,600.9 967.7,598.9 972.7,596.7 977.6,602.9 982.6,598.4 987.0,604.1 992.5,618.7 997.4,621.9 1002.4,625.2 1007.4,623.2 1012.3,625.2 1017.3,621.4 1023.0,626.4 1027.9,630.1 1032.1,621.9 1037.1,617.0 1042.0,612.8 1047.7,611.5 1052.7,609.5 1057.6,611.5 1062.6,612.5 1067.6,613.3 1072.5,613.3 1077.5,610.8 1082.4,605.3 1087.4,606.3 1092.3,603.4 1097.3,604.6 1102.2,604.6 1107.7,609.5 1112.6,605.3 1117.6,593.9 1121.3,591.5 1133.2,591.5 1137.4,584.3 1142.4,591.5 1147.3,590.2 1152.3,592.2 1157.2,590.5 1162.9,592.9 1167.1,592.2 1172.3,585.3 1177.8,586.5 1182.7,586.5 1187.7,585.3 1192.7,588.5 1197.6,593.4 1202.6,596.4 1207.5,591.7 1212.4,596.4 1217.3,595.4 1222.3,600.4 1227.3,608.3 1232.2,612.0 1237.7,609.5 1242.6,619.5 1247.6,622.4 1252.5,620.0 1257.5,612.0 1262.4,608.3 1267.4,614.0 1272.3,619.5 1278.0,614.0 1283.0,611.3 1287.2,609.5 1292.2,612.0 1297.9,617.0 1302.8,619.5 1307.0,621.4 1312.7,617.5 1317.7,615.2 1322.6,615.2 1327.6,611.5 1332.5,618.2 1338.0,618.7 1342.9,621.2 1347.9,624.4 1352.4,623.7 1357.8,628.6 1362.8,620.2 1367.7,621.4 1377.6,621.4 1382.6,624.4 1387.5,619.5 1392.5,614.5 1397.4,612.5 1402.4,612.5 1407.4,614.5 1412.3,614.5 1417.3,607.6 1423.0,612.5 1427.9,611.5 1432.9,612.5 1437.8,613.8 1442.8,616.5 1447.7,608.3 1452.7,601.6 1457.6,607.8 1462.6,600.1 1467.6,601.4 1472.5,598.4 1477.5,598.4 1482.4,605.3 1487.4,598.4 1492.3,595.4 1497.3,593.4 1502.2,591.0 1507.2,590.5 1512.6,602.6 1517.6,601.6 1522.1,600.4 1527.5,615.2 1532.5,615.0 1538.2,618.2 1543.1,613.8 1548.1,610.3 1552.3,610.3" fill="none" stroke="#0000FF" stroke-width="1" shape-rendering="crispEdges"/>
<polyline points="0.0,715.1 72.3,715.1 77.3,695.7 82.2,674.7 87.2,662.8 92.2,672.2 97.1,689.5 102.1,700.7 107.8,706.4 112.7,705.6 117.7,701.9 122.6,690.8 127.6,688.3 132.5,687.1 137.5,693.8 142.4,680.9 147.4,677.7 152.4,685.8 157.3,701.2 162.3,698.2 167.2,687.1 172.7,669.2 177.6,663.5 182.6,656.1 187.5,656.1 192.5,656.1 197.4,657.8 202.4,662.3 207.4,668.5 212.3,669.2 217.3,683.4 222.2,693.3 227.2,708.1 232.1,704.4 237.1,698.2 242.0,682.6 247.0,683.4 251.9,687.1 256.9,699.5 262.6,703.2 267.6,708.6 272.5,705.6 277.5,698.2 282.4,688.8 287.4,690.3 292.3,692.5 297.3,692.0 302.2,689.5 307.2,675.9 312.1,664.8 317.6,657.3 322.1,662.8 327.0,678.4 332.5,689.5 337.4,700.0 342.4,697.5 346.8,693.3 351.8,675.9 356.7,673.4 362.2,677.2 367.9,680.1 372.8,675.9 377.8,672.2 382.7,671.0 387.7,667.3 392.7,656.6 397.6,658.6 402.6,657.3 407.5,663.5 412.4,685.8 417.3,699.0 422.3,701.9 427.3,696.5 432.2,685.8 437.2,674.7 442.6,664.8 447.6,664.8 452.5,663.5 457.5,662.8 462.4,655.4 467.4,656.8 472.3,653.6 477.3,661.8 483.0,675.9 487.9,679.1 492.9,675.9 497.1,663.5 502.1,660.3 507.0,659.3 512.7,662.8 517.7,661.8 522.6,661.8 527.6,663.0 532.5,664.3 537.5,663.5 542.9,658.1 547.9,659.8 552.9,661.8 557.8,669.7 562.8,670.2 567.7,664.8 572.7,659.3 577.6,658.1 582.6,657.3 587.5,659.1 592.5,658.6 597.4,662.8 602.4,664.8 607.4,666.0 612.3,668.5 618.0,674.7 622.2,689.5 627.2,695.0 632.1,700.2 637.1,694.5 642.0,697.0 647.0,696.5 652.7,693.3 657.6,684.6 662.6,681.4 667.6,684.1 672.5,680.9 677.5,673.4 682.9,664.8 687.9,662.8 692.8,661.1 697.8,657.8 702.7,656.1 707.7,656.6 712.6,658.6 717.6,666.8 722.5,687.1 727.5,700.0 732.5,694.0 737.4,677.2 742.4,664.8 747.3,663.5 752.3,663.5 757.2,677.7 762.2,679.6 767.1,687.8 772.1,689.5 777.1,685.1 782.0,674.7 787.0,672.2 792.7,687.1 797.6,698.2 802.6,697.5 807.5,687.1 812.4,680.1 817.3,681.6 822.3,687.1 827.3,689.1 832.2,685.8 837.2,677.7 842.6,680.1 847.6,677.7 852.5,677.2 857.5,669.2 862.4,661.8 867.4,661.1 872.3,656.6 877.3,661.8 883.0,664.0 887.9,669.7 892.9,675.9 897.9,691.5 902.8,702.7 907.8,703.2 912.7,693.3 917.7,678.4 922.6,668.5 927.6,655.4 932.5,662.8 937.5,683.4 942.9,700.2 947.9,708.9 952.4,710.1 957.3,694.0 962.8,672.2 967.7,657.3 972.7,659.3 977.6,669.2 982.6,667.3 987.5,675.9 992.5,685.3 997.4,699.0 1002.4,708.1 1007.4,708.6 1012.3,710.6 1017.3,704.4 1022.2,706.4 1027.2,704.4 1032.1,699.5 1037.1,682.6 1042.0,663.5 1047.7,657.3 1052.7,660.6 1057.6,664.8 1062.6,675.9 1067.6,689.5 1072.5,700.0 1077.5,700.2 1082.4,680.9 1087.4,664.0 1092.3,656.6 1097.3,666.0 1102.2,672.2 1107.7,682.1 1112.6,682.1 1117.6,674.7 1122.5,664.0 1127.5,660.6 1132.5,663.5 1137.4,661.8 1142.4,661.8 1147.3,664.0 1152.3,670.2 1157.2,670.2 1162.9,675.4 1167.9,671.0 1172.8,668.0 1177.8,659.3 1182.7,659.3 1187.7,660.3 1192.7,662.8 1197.6,682.1 1202.6,697.0 1207.5,697.0 1212.4,693.3 1217.3,683.8 1222.3,694.0 1227.3,700.7 1232.2,703.7 1237.2,699.5 1242.6,697.5 1247.6,697.5 1252.5,699.5 1257.5,688.3 1262.4,677.2 1267.4,670.5 1272.3,680.9 1278.0,691.3 1283.0,691.3 1287.2,679.6 1292.2,677.7 1297.9,684.6 1302.8,697.0 1307.8,708.1 1312.7,708.1 1317.7,697.0 1322.6,688.3 1327.6,679.1 1332.5,685.8 1338.0,695.7 1342.9,703.9 1347.9,706.4 1352.9,700.7 1357.8,697.5 1362.8,685.8 1367.7,680.4 1372.7,674.7 1377.6,673.4 1382.6,675.9 1387.5,678.4 1392.5,677.2 1397.4,669.7 1402.4,661.8 1407.4,662.3 1412.3,669.2 1417.3,667.3 1423.0,672.2 1427.9,670.5 1432.9,677.2 1437.8,679.6 1442.8,694.0 1447.7,687.8 1452.7,678.4 1457.6,667.7 1462.6,666.0 1467.6,666.0 1472.5,666.0 1477.5,676.7 1482.4,688.3 1487.4,691.3 1492.3,690.3 1497.3,679.6 1502.2,673.4 1507.2,670.5 1512.6,682.1 1517.6,692.0 1522.1,701.9 1527.5,705.2 1532.5,705.2 1538.2,703.2 1543.1,692.0 1548.1,680.9 1553.0,669.2" fill="none" stroke="#0000FF" stroke-width="1" shape-rendering="crispEdges"/>
<polyline points="0.0,715.1 72.3,715.1 77.3,708.1 82.2,693.3 87.2,678.4 92.2,671.0 97.1,673.4 102.1,685.8 107.8,699.5 112.7,703.9 117.7,704.4 122.6,699.5 127.6,693.8 132.5,688.8 137.5,690.0 142.4,687.1 147.4,684.1 152.4,682.1 157.3,688.3 162.3,695.0 167.2,695.0 172.7,684.6 177.6,673.4 182.6,662.8 187.5,658.6 192.5,656.1 197.4,656.8 202.4,658.6 207.4,662.8 212.3,666.8 217.3,673.4 222.2,682.1 227.2,694.5 232.1,701.9 237.1,703.9 242.0,695.0 247.0,688.3 251.9,684.6 256.9,690.3 262.6,696.5 267.6,703.9 272.5,706.4 277.5,704.4 282.4,697.5 287.4,692.5 292.3,690.8 297.3,691.5 302.2,691.3 307.2,685.8 312.1,677.2 317.6,666.0 322.1,661.8 327.0,666.0 332.5,677.2 337.4,689.5 342.4,696.5 346.8,696.5 351.8,688.8 356.7,680.9 362.2,675.4 367.9,677.2 372.8,678.4 377.8,675.9 382.7,672.9 387.7,670.2 392.7,664.8 397.6,661.1 402.6,657.3 407.5,659.8 409.9,667.7 414.9,680.9 421.1,695.0 426.0,699.5 432.2,693.3 437.2,683.4 442.6,673.4 447.6,667.3 452.5,664.3 457.5,663.0 462.4,660.6 467.4,658.6 472.3,655.4 477.3,657.3 483.0,664.8 487.9,674.7 492.9,677.2 497.9,673.4 502.8,666.0 507.8,661.6 512.7,661.1 517.7,661.8 522.6,661.8 527.6,662.3 532.5,663.5 537.5,664.0 542.9,662.8 547.9,660.3 552.9,660.3 557.8,664.3 562.8,668.0 567.7,669.2 572.7,664.8 577.6,661.8 582.6,658.6 587.5,658.1 592.5,658.1 597.4,659.8 602.4,661.8 607.4,664.3 612.3,666.8 618.0,670.2 622.2,677.2 627.2,686.6 632.1,695.0 637.1,696.5 642.0,697.5 647.0,696.5 652.7,695.0 657.6,691.5 662.6,687.1 667.6,683.4 672.5,682.1 677.5,679.6 682.9,673.4 687.9,666.5 692.8,663.0 697.8,660.6 702.7,658.1 707.7,656.6 712.6,657.3 717.6,660.3 722.5,672.2 727.5,684.6 732.5,694.0 737.4,691.5 742.4,680.9 747.3,670.2 752.3,663.5 757.2,668.5 762.2,673.4 767.1,682.1 772.1,685.3 777.1,685.8 782.0,682.6 787.0,677.2 792.7,676.7 797.6,685.8 802.6,694.5 807.5,694.0 812.4,688.8 817.3,683.8 822.3,683.4 827.3,685.3 832.2,687.1 837.2,684.1 842.6,680.9 847.6,678.4 852.5,677.9 857.5,674.7 862.4,669.2 867.4,664.0 872.3,661.1 877.3,660.3 883.0,660.3 887.9,664.8 892.9,670.5 897.9,679.6 902.8,690.3 907.8,699.0 912.7,700.2 917.7,692.0 922.6,680.1 927.6,666.8 932.5,662.8 937.5,666.8 942.9,682.1 947.9,697.0 952.4,705.6 957.3,704.4 962.8,692.0 967.7,674.7 972.7,663.5 977.6,662.3 982.6,664.8 987.5,670.2 992.5,676.4 997.4,687.1 1002.4,698.2 1007.4,706.4 1012.3,708.9 1017.3,708.1 1022.2,707.4 1027.2,705.6 1032.1,703.2 1037.1,695.7 1042.0,681.6 1047.7,667.7 1052.7,659.8 1057.6,660.6 1062.6,666.8 1067.6,677.2 1072.5,688.3 1077.5,696.5 1082.4,693.3 1087.4,681.6 1092.3,667.3 1097.3,661.8 1102.2,664.8 1107.7,673.4 1112.6,679.1 1117.6,679.6 1122.5,673.4 1127.5,666.8 1132.5,662.3 1137.4,661.6 1142.4,661.8 1147.3,662.3 1152.3,664.8 1157.2,668.0 1162.9,672.2 1167.9,672.7 1172.8,671.0 1177.8,666.0 1182.7,661.8 1187.7,659.3 1192.7,660.6 1197.6,668.5 1202.6,680.9 1207.5,692.0 1209.9,693.3 1212.9,695.0 1217.3,690.8 1222.3,690.3 1227.3,692.5 1232.2,699.5 1237.2,700.7 1242.6,700.2 1247.6,698.2 1252.5,698.2 1257.5,695.7 1262.4,688.8 1267.4,679.6 1272.3,677.2 1278.0,680.9 1283.0,687.8 1287.2,687.1 1292.2,683.4 1297.9,681.4 1302.8,686.6 1307.8,696.5 1312.7,704.9 1317.7,705.2 1322.6,697.7 1327.6,688.3 1332.5,685.1 1338.0,687.1 1342.9,695.0 1347.9,702.4 1352.9,703.7 1357.8,701.4 1362.8,694.5 1367.7,687.8 1372.7,680.4 1377.6,676.7 1382.6,675.4 1387.5,676.4 1392.5,677.2 1397.4,675.4 1402.4,669.2 1407.4,664.8 1412.3,664.3 1417.3,666.5 1423.0,669.2 1427.9,669.7 1432.9,673.4 1437.8,675.9 1442.8,684.6 1447.7,687.1 1452.7,687.1 1457.6,678.9 1462.6,671.0 1467.6,666.8 1472.5,666.5 1477.5,669.7 1482.4,677.2 1487.4,685.8 1492.3,690.3 1497.3,687.1 1502.2,681.4 1507.2,674.7 1512.6,674.7 1517.6,681.6 1522.1,692.0 1527.5,700.2 1532.5,703.9 1538.2,704.4 1543.1,700.2 1548.1,692.0 1553.0,680.9" fill="none" stroke="#FF0000" stroke-width="1" shape-rendering="crispEdges"/>
<polyline points="0.0,875.1 24.8,872.6 49.5,870.1 74.3,868.1 81.8,865.6 89.2,863.9 99.1,863.2 109.0,863.2 123.9,862.4 138.7,861.4 151.1,861.4 158.5,863.2 168.5,863.9 178.4,863.2 188.3,859.5 198.2,855.7 208.1,852.8 215.5,851.5 223.0,851.5 230.4,852.8 237.8,853.8 247.7,855.7 257.6,858.2 267.6,861.2 277.5,864.4 287.4,867.4 297.3,870.6 304.7,872.6 309.7,873.6 315.9,872.3 322.1,871.3 329.5,871.3 341.9,872.3 354.3,871.8 366.6,871.8 376.6,870.6 384.0,868.9 391.4,865.6 398.9,861.9 406.3,858.2 409.9,857.5 421.1,855.7 432.2,855.0 444.6,853.8 457.0,852.0 469.4,850.0 481.8,848.8 494.1,847.6 506.5,846.3 516.4,844.1 526.3,839.6 536.3,834.7 546.2,829.7 556.1,826.0 566.0,822.8 575.9,820.3 585.8,818.1 595.7,816.8 605.6,816.1 615.5,816.1 625.4,817.3 635.3,819.8 645.3,823.0 655.2,826.5 665.1,830.2 672.5,832.9 679.9,834.7 689.8,835.4 699.8,835.9 712.1,835.9 722.1,837.2 732.0,838.4 741.9,839.6 751.8,839.1 761.7,839.6 771.6,840.4 781.5,840.4 791.4,841.6 801.3,843.8 809.9,846.3 819.8,849.1 829.7,851.3 839.6,852.8 849.5,854.0 859.5,854.5 869.4,854.0 876.8,849.5 886.7,844.6 896.6,840.9 906.5,839.6 916.4,839.6 926.3,839.1 936.3,839.6 946.2,842.1 956.1,844.1 966.0,845.8 975.9,846.3 985.8,846.3 995.7,848.3 1005.6,853.3 1015.5,859.0 1025.4,863.9 1035.3,868.1 1045.3,870.6 1055.2,870.1 1065.1,868.9 1075.0,867.4 1084.9,865.6 1094.8,863.2 1104.7,861.2 1114.6,859.5 1124.5,856.2 1134.4,852.0 1144.4,847.1 1154.3,843.4 1164.2,840.4 1174.1,837.9 1184.0,835.9 1193.9,834.2 1201.3,834.2 1212.4,835.2 1222.3,836.4 1232.2,838.9 1242.1,843.8 1252.0,848.3 1261.9,852.0 1271.8,855.0 1281.8,857.7 1291.7,859.5 1301.6,861.2 1311.5,863.2 1321.4,863.9 1331.3,864.9 1341.2,865.6 1351.1,866.9 1361.0,868.9 1370.9,870.1 1380.8,871.3 1390.8,871.8 1400.7,871.1 1410.6,869.4 1420.5,867.6 1430.4,866.9 1440.3,866.1 1450.2,864.9 1460.1,862.7 1470.0,860.7 1479.9,859.0 1489.8,857.0 1499.8,855.0 1509.7,852.8 1519.6,851.3 1529.5,851.5 1539.4,852.8 1549.3,855.7 1553.0,856.5" fill="none" stroke="#00FF00" stroke-width="1" stroke-dasharray="6 4" shape-rendering="crispEdges"/>
<polyline points="0.0,873.1 24.8,871.1 49.5,868.9 71.8,867.4 79.3,863.9 85.5,861.2 94.1,861.4 99.1,861.9 109.0,863.2 116.4,863.2 122.6,861.4 128.8,862.4 135.0,861.9 141.2,859.5 147.4,859.5 152.4,861.9 157.3,867.4 162.3,864.9 168.5,864.9 173.4,863.9 178.4,861.9 184.6,858.2 190.8,854.0 196.9,850.8 203.1,849.1 209.3,848.3 215.5,848.8 221.7,850.8 227.9,853.3 234.1,855.7 240.3,856.5 246.5,858.2 252.7,861.2 258.9,863.7 265.1,866.4 271.3,869.4 277.5,871.8 283.7,873.8 289.8,876.3 293.6,877.5 301.0,877.5 307.2,875.1 313.4,872.3 319.6,871.1 323.3,870.6 329.5,871.8 335.7,872.3 341.9,872.6 348.1,871.3 354.3,871.8 364.2,871.3 371.6,870.6 377.8,868.9 384.0,865.6 390.2,860.2 396.4,855.0 402.6,851.5 407.5,850.3 412.4,851.5 421.1,853.3 432.2,853.3 442.1,852.0 449.5,852.0 459.5,849.5 471.8,846.3 484.2,846.6 496.6,845.1 509.0,844.1 517.7,840.1 523.9,834.2 528.8,830.2 536.3,826.8 543.7,823.0 548.6,820.3 554.8,818.6 563.5,818.1 570.9,815.6 578.4,815.4 590.8,814.4 598.2,815.4 604.4,814.1 610.6,814.4 616.8,816.8 623.0,819.8 631.6,824.0 637.8,827.7 645.3,831.5 652.7,833.4 660.1,835.9 667.6,838.4 673.7,838.4 679.9,837.2 687.4,838.4 694.8,837.2 702.2,835.9 713.4,835.4 722.1,838.4 729.5,840.9 736.9,842.1 744.4,840.1 751.8,839.6 759.2,841.4 766.6,840.9 772.8,842.1 781.5,840.9 788.9,843.8 796.4,847.6 801.3,849.5 807.5,849.5 808.7,850.3 817.3,852.8 829.7,855.0 839.6,855.7 847.1,857.5 857.0,856.5 865.6,855.0 871.8,845.1 879.3,837.9 886.7,833.4 892.9,835.2 901.6,838.4 911.5,839.6 926.3,839.6 933.8,841.4 942.4,845.1 951.1,848.3 963.5,848.3 970.9,846.6 978.4,847.6 987.0,846.3 995.7,855.0 1003.1,861.9 1010.6,866.4 1018.0,870.6 1025.4,874.3 1031.6,877.5 1037.8,877.3 1044.0,873.8 1050.2,870.1 1057.6,868.6 1065.1,866.9 1072.5,866.4 1079.9,863.9 1087.4,862.4 1094.8,860.2 1102.2,859.0 1110.9,858.2 1119.6,851.3 1129.5,846.3 1136.9,842.1 1146.8,837.7 1156.7,836.7 1166.6,836.4 1176.6,833.4 1186.5,831.5 1193.9,832.2 1201.3,835.2 1208.8,835.4 1209.9,835.9 1219.8,839.6 1229.7,844.6 1239.6,849.5 1249.5,856.5 1257.0,859.5 1266.9,860.0 1276.8,863.2 1286.7,862.4 1296.6,863.2 1306.5,866.4 1316.4,866.4 1333.8,866.4 1343.7,868.9 1356.1,872.6 1370.9,872.6 1383.3,873.6 1395.7,871.8 1405.6,869.4 1418.0,866.4 1430.4,865.6 1445.3,865.2 1455.2,861.2 1467.6,858.2 1479.9,856.5 1492.3,852.8 1507.2,848.3 1519.6,849.1 1529.5,853.3 1540.6,858.2 1553.0,859.5" fill="none" stroke="#0000FF" stroke-width="1" shape-rendering="crispEdges"/>
<polygon points="1545.5,0 1558.5,0 1552,6.5" fill="#000"/>
<defs><filter id="al" x="0" y="0" width="100%" height="100%" filterUnits="userSpaceOnUse" color-interpolation-filters="sRGB"><feComponentTransfer><feFuncA type="discrete" tableValues="0 0 0 0 0 0 0 0 1 1 1 1 1 1 1 1 1 1 1 1"/></feComponentTransfer></filter></defs>
<g font-family="Liberation Sans, sans-serif" font-size="12px" fill="#000" filter="url(#al)">
<text x="1599 1606 1609 1616 1623 1630" y="15">1.1000</text>
<text x="1599 1606 1609 1616 1623 1630" y="41">1.0980</text>
<text x="1599 1606 1609 1616 1623 1630" y="92">1.0940</text>
<text x="1599 1606 1609 1616 1623 1630" y="118">1.0920</text>
<text x="1599 1606 1609 1616 1623 1630" y="170">1.0880</text>
<text x="1599 1606 1609 1616 1623 1630" y="196">1.0860</text>
<text x="1599 1606 1609 1616 1623 1630" y="222">1.0840</text>
<text x="1599 1606 1609 1616 1623 1630" y="248">1.0820</text>
<text x="1599 1606 1609 1616 1623 1630" y="274">1.0800</text>
<text x="1599 1606 1609 1616 1623 1630" y="300">1.0780</text>
<text x="1599 1606 1609 1616 1623 1630" y="326">1.0760</text>
<text x="1599 1606 1609 1616 1623 1630" y="351">1.0740</text>
<text x="1599 1606 1609 1616 1623 1630" y="377">1.0720</text>
<text x="1599 1606 1609 1616 1623 1630" y="403">1.0700</text>
<text x="1599 1606 1609 1616 1623 1630" y="429">1.0680</text>
<text x="1599 1606 1609 1616 1623 1630" y="455">1.0660</text>
<text x="1599 1606 1609 1616 1623 1630" y="481">1.0640</text>
<text x="1599 1606 1609 1616 1623 1630" y="507">1.0620</text>
<text x="1599 1606 1609 1616 1623 1630" y="533">1.0600</text>
<text x="1599 1606 1609 1616 1623 1630" y="559">1.0580</text>
<text x="1603 1610 1617 1620 1627" y="588">78.42</text>
<text x="1603 1610 1617 1620 1627" y="699">34.18</text>
<text x="1603 1610 1617 1620 1627" y="671">66.17</text>
<text x="1601 1608 1615 1622 1629" y="749">13664</text>
<text x="1604 1611 1618 1625" y="779">5826</text>
<text x="1589 1596 1599 1606 1613 1620 1627 1634 1641" y="831">0.0024384</text>
<text x="1563 1570" y="589">70</text>
<text x="1563 1570" y="632">30</text>
<text x="1563 1570" y="661">80</text>
<text x="1563 1570" y="700">20</text>
<g shape-rendering="crispEdges"><rect x="5.5" y="569.5" width="10" height="10" fill="#fff" stroke="#000" stroke-width="1"/><path d="M7.5 571.5 L13.5 577.5 M13.5 571.5 L7.5 577.5" stroke="#000" stroke-width="1" fill="none"/></g>
<g shape-rendering="crispEdges"><rect x="5.5" y="650.5" width="10" height="10" fill="#fff" stroke="#000" stroke-width="1"/><path d="M7.5 652.5 L13.5 658.5 M13.5 652.5 L7.5 658.5" stroke="#000" stroke-width="1" fill="none"/></g>
<g shape-rendering="crispEdges"><rect x="5.5" y="731.5" width="10" height="10" fill="#fff" stroke="#000" stroke-width="1"/><path d="M7.5 733.5 L13.5 739.5 M13.5 733.5 L7.5 739.5" stroke="#000" stroke-width="1" fill="none"/></g>
<g shape-rendering="crispEdges"><rect x="5.5" y="811.5" width="10" height="10" fill="#fff" stroke="#000" stroke-width="1"/><path d="M7.5 813.5 L13.5 819.5 M13.5 813.5 L7.5 819.5" stroke="#000" stroke-width="1" fill="none"/></g>
<text x="20 29 37 40 43 46 50 57 64" y="582">RSI: (14)</text>
<text x="20 28 35 44 53 62 65 68 72 79 82 85 92 95 98 106 115 122 125 128 135 138 141 149 158 165 169 172" y="663">STOCH: (5, 3, SMA, 3, SMA) (</text>
<text x="176 184 187 194 203 206 217 225 228" y="663" fill="#0000FF">Slow %K, </text>
<text x="231 239 242 249 258 261 272" y="663" fill="#FF0000">Slow %D</text>
<text x="281" y="663">)</text>
<text x="20 27 36 43 52 61" y="744">VOLUME</text>
<text x="20 29 36 45 54 57 60 64 71 78 81 84 91 98 101 104 111 115 118" y="824">MACD: (12, 26, 9) (</text>
<text x="122 131 138 147 156 159" y="824" fill="#0000FF">MACD, </text>
<text x="162 171 178 187 196 199 207 210 217 224 231 234 237" y="824" fill="#00FF00">MACD Signal, </text>
<text x="240 249 256 265 274 277 286 289 295" y="824" fill="#FF0000">MACD Hist</text>
<text x="299" y="824">)</text>
<text x="2 9 16 23" y="895">2014</text>
<text x="107 114 121 124 131 138 141 148 155 158 164 171" y="895">04:00 02 Jan</text>
<text x="212 219 226 229 236 243 246 253 260 263 269 276" y="895">01:00 03 Jan</text>
<text x="317 324 331 334 341 348 351 358 365 368 374 381" y="895">22:00 05 Jan</text>
<text x="422 429 436 439 446 453 456 463 470 473 479 486" y="895">19:00 06 Jan</text>
<text x="527 534 541 544 551 558 561 568 575 578 584 591" y="895">16:00 07 Jan</text>
<text x="632 639 646 649 656 663 666 673 680 683 689 696" y="895">13:00 08 Jan</text>
<text x="737 744 751 754 761 768 771 778 785 788 794 801" y="895">10:00 09 Jan</text>
<text x="842 849 856 859 866 873 876 883 890 893 899 906" y="895">07:00 10 Jan</text>
<text x="947 954 961 964 971 978 981 988 995 998 1004 1011" y="895">04:00 13 Jan</text>
<text x="1052 1059 1066 1069 1076 1083 1086 1093 1100 1103 1109 1116" y="895">01:00 14 Jan</text>
<text x="1157 1164 1171 1174 1181 1188 1191 1198 1205 1208 1214 1221" y="895">22:00 14 Jan</text>
<text x="1262 1269 1276 1279 1286 1293 1296 1303 1310 1313 1319 1326" y="895">19:00 15 Jan</text>
<text x="1367 1374 1381 1384 1391 1398 1401 1408 1415 1418 1424 1431" y="895">16:00 16 Jan</text>
<text x="1472 1479 1486 1489 1496 1503 1506 1513 1520 1523 1529 1536" y="895">13:00 17 Jan</text>
<text x="1577 1584 1591 1594 1601 1608 1611 1618 1625 1628 1634 1641" y="895">10:00 20 Jan</text>
<text x="1604 1610 1617 1624 1627 1634 1641 1648" y="895">Jan 2014</text>
</g>
<g shape-rendering="crispEdges"><rect x="71" y="575" width="13" height="2" fill="#0000FF"/><rect x="72" y="737" width="13" height="2" fill="#0000FF"/></g>
<g shape-rendering="crispEdges"><rect x="1583" y="58" width="71" height="17" fill="#000"/><rect x="1584" y="59" width="69" height="15" fill="#C0C0C0"/></g>
<g font-family="Liberation Sans, sans-serif" font-size="12px" filter="url(#al)">
<text x="1596 1603 1606 1613 1620 1627 1634" y="72" fill="#000">1.09557</text>
</g>
<g shape-rendering="crispEdges"><rect x="1583" y="134" width="71" height="17" fill="#000"/><rect x="1584" y="135" width="69" height="15" fill="#404040"/></g>
<g font-family="Liberation Sans, sans-serif" font-size="12px" filter="url(#al)">
<text x="1596 1603 1606 1613 1620 1627 1634" y="148" fill="#fff">1.08970</text>
</g>
<g shape-rendering="crispEdges"><rect x="1583" y="602" width="71" height="17" fill="#000"/><rect x="1584" y="603" width="69" height="15" fill="#0000FF"/></g>
<g font-family="Liberation Sans, sans-serif" font-size="12px" filter="url(#al)">
<text x="1592 1599 1606 1609 1616 1623 1630 1637" y="616" fill="#fff">52.53589</text>
</g>
<g shape-rendering="crispEdges"><rect x="1583" y="661" width="71" height="17" fill="#000"/><rect x="1584" y="662" width="69" height="15" fill="#0000FF"/></g>
<g font-family="Liberation Sans, sans-serif" font-size="12px" filter="url(#al)">
<text x="1592 1599 1606 1609 1616 1623 1630 1637" y="675" fill="#fff">71.80613</text>
</g>
<g shape-rendering="crispEdges"><rect x="1583" y="673" width="71" height="17" fill="#000"/><rect x="1584" y="674" width="69" height="15" fill="#FF0000"/></g>
<g font-family="Liberation Sans, sans-serif" font-size="12px" filter="url(#al)">
<text x="1592 1599 1606 1609 1616 1623 1630 1637" y="687" fill="#fff">52.43181</text>
</g>
<g shape-rendering="crispEdges"><rect x="1583" y="787" width="71" height="16" fill="#000"/><rect x="1584" y="788" width="69" height="15" fill="#0000FF"/></g>
<g font-family="Liberation Sans, sans-serif" font-size="12px" filter="url(#al)">
<text x="1603 1610 1617 1620 1627" y="801" fill="#fff">91.27</text>
</g>
<g shape-rendering="crispEdges"><rect x="1583" y="851" width="71" height="17" fill="#000"/><rect x="1584" y="852" width="69" height="15" fill="#0000FF"/></g>
<g font-family="Liberation Sans, sans-serif" font-size="12px" filter="url(#al)">
<text x="1589 1596 1599 1606 1613 1620 1627 1634 1641" y="865" fill="#fff">0.0002100</text>
</g>
<g shape-rendering="crispEdges"><rect x="1583" y="848" width="71" height="17" fill="#000"/><rect x="1584" y="849" width="69" height="15" fill="#00FF00"/></g>
<g font-family="Liberation Sans, sans-serif" font-size="12px" filter="url(#al)">
<text x="1589 1596 1599 1606 1613 1620 1627 1634 1641" y="862" fill="#000">0.0004048</text>
</g>
<g shape-rendering="crispEdges"><rect x="1583" y="858" width="71" height="17" fill="#000"/><rect x="1584" y="859" width="69" height="15" fill="#FF0000"/></g>
<g font-family="Liberation Sans, sans-serif" font-size="12px" filter="url(#al)">
<text x="1587 1591 1598 1601 1608 1615 1622 1629 1636 1643" y="872" fill="#fff">-0.0001941</text>
</g>
<g font-family="Liberation Sans, sans-serif" font-size="11px" fill="#000">
<text x="1351" y="478" text-anchor="end" textLength="58.8" lengthAdjust="spacing">Pattern start</text>
<text x="1351" y="498" text-anchor="end" textLength="32.5" lengthAdjust="spacing">Length</text>
<text x="1351" y="519" text-anchor="end" textLength="32.7" lengthAdjust="spacing">Quality</text>
<text x="1351" y="540" text-anchor="end" textLength="49.2" lengthAdjust="spacing">Magnitude</text>
<text x="1361.5" y="478" font-weight="bold" textLength="85.3" lengthAdjust="spacing">13:00 2014-01-03</text>
<text x="1361.5" y="498" font-weight="bold">218 bars</text>
</g>
<defs><linearGradient id="pg" x1="0" y1="0" x2="0" y2="1"><stop offset="0" stop-color="#e4e4e4"/><stop offset="0.5" stop-color="#d0d0d0"/><stop offset="1" stop-color="#bcbcbc"/></linearGradient></defs>
<defs></defs>
<rect x="1361.5" y="506.5" width="201" height="14" rx="2" ry="2" fill="url(#pg)" stroke="#8a8a8a" stroke-width="1"/>
<rect x="1363" y="507" width="148" height="13" fill="#00EE00" shape-rendering="crispEdges"/>
<text x="1461.5" y="516" text-anchor="middle" font-family="Liberation Sans, sans-serif" font-size="11px" fill="#000">75%</text>
<defs></defs>
<rect x="1361.5" y="527.5" width="201" height="14" rx="2" ry="2" fill="url(#pg)" stroke="#8a8a8a" stroke-width="1"/>
<rect x="1363" y="528" width="190" height="13" fill="#00EE00" shape-rendering="crispEdges"/>
<text x="1461.5" y="537" text-anchor="middle" font-family="Liberation Sans, sans-serif" font-size="11px" fill="#000">96%</text>
</svg>
</body></html>
